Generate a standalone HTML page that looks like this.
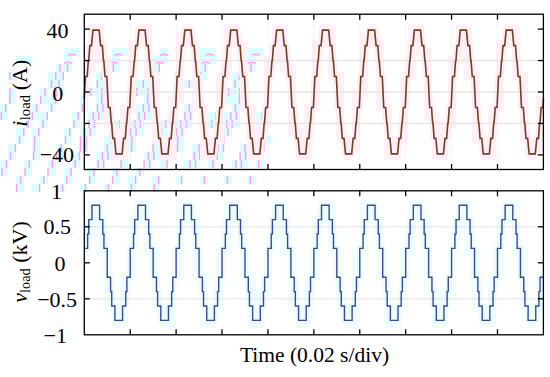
<!DOCTYPE html>
<html><head><meta charset="utf-8"><style>
html,body{margin:0;padding:0;background:#fff;}
body{width:550px;height:377px;overflow:hidden;position:relative;}
svg{position:absolute;left:0;top:0;}
text{font-family:"Liberation Serif", serif;font-size:22px;fill:#000;}
</style></head><body>
<svg width="550" height="377" viewBox="0 0 550 377">
<defs><clipPath id="cu"><rect x="84.3" y="14.2" width="459.10" height="155.30"/></clipPath>
<clipPath id="cl"><rect x="84.3" y="190.8" width="459.10" height="144.00"/></clipPath></defs>
<g fill="#dafdfd" stroke="none"><rect x="0" y="104" width="8" height="8"/><rect x="0" y="112" width="8" height="8"/><rect x="0" y="160" width="8" height="8"/><rect x="0" y="168" width="8" height="8"/><rect x="8" y="72" width="8" height="8"/><rect x="8" y="88" width="8" height="8"/><rect x="8" y="96" width="8" height="8"/><rect x="8" y="144" width="8" height="8"/><rect x="8" y="152" width="8" height="8"/><rect x="16" y="56" width="8" height="8"/><rect x="16" y="128" width="8" height="8"/><rect x="16" y="136" width="8" height="8"/><rect x="16" y="176" width="8" height="8"/><rect x="16" y="184" width="8" height="8"/><rect x="24" y="56" width="8" height="8"/><rect x="24" y="120" width="8" height="8"/><rect x="24" y="160" width="8" height="8"/><rect x="24" y="168" width="8" height="8"/><rect x="32" y="104" width="8" height="8"/><rect x="32" y="112" width="8" height="8"/><rect x="32" y="128" width="8" height="8"/><rect x="32" y="136" width="8" height="8"/><rect x="32" y="144" width="8" height="8"/><rect x="32" y="152" width="8" height="8"/><rect x="32" y="184" width="8" height="8"/><rect x="40" y="88" width="8" height="8"/><rect x="40" y="96" width="8" height="8"/><rect x="40" y="112" width="8" height="8"/><rect x="40" y="120" width="8" height="8"/><rect x="40" y="176" width="8" height="8"/><rect x="48" y="72" width="8" height="8"/><rect x="48" y="80" width="8" height="8"/><rect x="48" y="96" width="8" height="8"/><rect x="48" y="104" width="8" height="8"/><rect x="48" y="160" width="8" height="8"/><rect x="48" y="168" width="8" height="8"/><rect x="56" y="64" width="8" height="8"/><rect x="56" y="72" width="8" height="8"/><rect x="56" y="80" width="8" height="8"/><rect x="56" y="88" width="8" height="8"/><rect x="56" y="144" width="8" height="8"/><rect x="56" y="152" width="8" height="8"/><rect x="56" y="184" width="8" height="8"/><rect x="64" y="48" width="8" height="8"/><rect x="64" y="56" width="8" height="8"/><rect x="64" y="64" width="8" height="8"/><rect x="64" y="128" width="8" height="8"/><rect x="64" y="136" width="8" height="8"/><rect x="64" y="168" width="8" height="8"/><rect x="64" y="176" width="8" height="8"/><rect x="72" y="48" width="8" height="8"/><rect x="72" y="112" width="8" height="8"/><rect x="72" y="120" width="8" height="8"/><rect x="72" y="152" width="8" height="8"/><rect x="72" y="160" width="8" height="8"/><rect x="80" y="96" width="8" height="8"/><rect x="80" y="104" width="8" height="8"/><rect x="80" y="128" width="8" height="8"/><rect x="80" y="136" width="8" height="8"/><rect x="80" y="144" width="8" height="8"/><rect x="80" y="184" width="8" height="8"/><rect x="88" y="88" width="8" height="8"/><rect x="88" y="112" width="8" height="8"/><rect x="88" y="120" width="8" height="8"/><rect x="88" y="128" width="8" height="8"/><rect x="88" y="168" width="8" height="8"/><rect x="88" y="176" width="8" height="8"/><rect x="96" y="72" width="8" height="8"/><rect x="96" y="80" width="8" height="8"/><rect x="96" y="88" width="8" height="8"/><rect x="96" y="96" width="8" height="8"/><rect x="96" y="104" width="8" height="8"/><rect x="96" y="112" width="8" height="8"/><rect x="96" y="152" width="8" height="8"/><rect x="96" y="160" width="8" height="8"/><rect x="104" y="56" width="8" height="8"/><rect x="104" y="64" width="8" height="8"/><rect x="104" y="72" width="8" height="8"/><rect x="104" y="80" width="8" height="8"/><rect x="104" y="96" width="8" height="8"/><rect x="104" y="136" width="8" height="8"/><rect x="104" y="144" width="8" height="8"/><rect x="104" y="152" width="8" height="8"/><rect x="104" y="184" width="8" height="8"/><rect x="112" y="48" width="8" height="8"/><rect x="112" y="56" width="8" height="8"/><rect x="112" y="64" width="8" height="8"/><rect x="112" y="120" width="8" height="8"/><rect x="112" y="128" width="8" height="8"/><rect x="112" y="168" width="8" height="8"/><rect x="112" y="176" width="8" height="8"/><rect x="120" y="48" width="8" height="8"/><rect x="120" y="112" width="8" height="8"/><rect x="120" y="136" width="8" height="8"/><rect x="120" y="144" width="8" height="8"/><rect x="120" y="152" width="8" height="8"/><rect x="120" y="160" width="8" height="8"/><rect x="128" y="96" width="8" height="8"/><rect x="128" y="104" width="8" height="8"/><rect x="128" y="120" width="8" height="8"/><rect x="128" y="128" width="8" height="8"/><rect x="128" y="136" width="8" height="8"/><rect x="128" y="144" width="8" height="8"/><rect x="128" y="176" width="8" height="8"/><rect x="128" y="184" width="8" height="8"/><rect x="136" y="80" width="8" height="8"/><rect x="136" y="88" width="8" height="8"/><rect x="136" y="104" width="8" height="8"/><rect x="136" y="112" width="8" height="8"/><rect x="136" y="120" width="8" height="8"/><rect x="136" y="128" width="8" height="8"/><rect x="136" y="168" width="8" height="8"/><rect x="144" y="64" width="8" height="8"/><rect x="144" y="72" width="8" height="8"/><rect x="144" y="80" width="8" height="8"/><rect x="144" y="88" width="8" height="8"/><rect x="144" y="96" width="8" height="8"/><rect x="144" y="104" width="8" height="8"/><rect x="144" y="112" width="8" height="8"/><rect x="144" y="152" width="8" height="8"/><rect x="144" y="160" width="8" height="8"/><rect x="152" y="56" width="8" height="8"/><rect x="152" y="64" width="8" height="8"/><rect x="152" y="72" width="8" height="8"/><rect x="152" y="96" width="8" height="8"/><rect x="152" y="136" width="8" height="8"/><rect x="152" y="144" width="8" height="8"/><rect x="152" y="152" width="8" height="8"/><rect x="152" y="176" width="8" height="8"/><rect x="152" y="184" width="8" height="8"/><rect x="160" y="48" width="8" height="8"/><rect x="160" y="56" width="8" height="8"/><rect x="160" y="120" width="8" height="8"/><rect x="160" y="128" width="8" height="8"/><rect x="160" y="160" width="8" height="8"/><rect x="168" y="104" width="8" height="8"/><rect x="168" y="112" width="8" height="8"/><rect x="168" y="136" width="8" height="8"/><rect x="168" y="144" width="8" height="8"/><rect x="168" y="152" width="8" height="8"/><rect x="176" y="88" width="8" height="8"/><rect x="176" y="96" width="8" height="8"/><rect x="176" y="120" width="8" height="8"/><rect x="176" y="128" width="8" height="8"/><rect x="176" y="136" width="8" height="8"/><rect x="176" y="144" width="8" height="8"/><rect x="176" y="176" width="8" height="8"/><rect x="184" y="80" width="8" height="8"/><rect x="184" y="104" width="8" height="8"/><rect x="184" y="112" width="8" height="8"/><rect x="184" y="120" width="8" height="8"/><rect x="184" y="160" width="8" height="8"/><rect x="192" y="64" width="8" height="8"/><rect x="192" y="72" width="8" height="8"/><rect x="192" y="80" width="8" height="8"/><rect x="192" y="88" width="8" height="8"/><rect x="192" y="96" width="8" height="8"/><rect x="192" y="104" width="8" height="8"/><rect x="192" y="144" width="8" height="8"/><rect x="192" y="152" width="8" height="8"/><rect x="192" y="160" width="8" height="8"/><rect x="200" y="48" width="8" height="8"/><rect x="200" y="56" width="8" height="8"/><rect x="200" y="64" width="8" height="8"/><rect x="200" y="72" width="8" height="8"/><rect x="200" y="128" width="8" height="8"/><rect x="200" y="136" width="8" height="8"/><rect x="200" y="176" width="8" height="8"/><rect x="208" y="48" width="8" height="8"/><rect x="208" y="56" width="8" height="8"/><rect x="208" y="112" width="8" height="8"/><rect x="208" y="120" width="8" height="8"/><rect x="208" y="160" width="8" height="8"/><rect x="216" y="104" width="8" height="8"/><rect x="216" y="128" width="8" height="8"/><rect x="216" y="136" width="8" height="8"/><rect x="216" y="144" width="8" height="8"/><rect x="216" y="152" width="8" height="8"/><rect x="224" y="88" width="8" height="8"/><rect x="224" y="96" width="8" height="8"/><rect x="224" y="112" width="8" height="8"/><rect x="224" y="120" width="8" height="8"/><rect x="224" y="128" width="8" height="8"/><rect x="224" y="176" width="8" height="8"/><rect x="232" y="72" width="8" height="8"/><rect x="232" y="80" width="8" height="8"/><rect x="232" y="88" width="8" height="8"/><rect x="232" y="96" width="8" height="8"/><rect x="232" y="104" width="8" height="8"/><rect x="232" y="112" width="8" height="8"/><rect x="232" y="120" width="8" height="8"/><rect x="232" y="160" width="8" height="8"/><rect x="240" y="56" width="8" height="8"/><rect x="240" y="64" width="8" height="8"/><rect x="240" y="72" width="8" height="8"/><rect x="240" y="80" width="8" height="8"/><rect x="240" y="96" width="8" height="8"/><rect x="240" y="104" width="8" height="8"/><rect x="240" y="144" width="8" height="8"/><rect x="240" y="152" width="8" height="8"/><rect x="240" y="160" width="8" height="8"/><rect x="248" y="48" width="8" height="8"/><rect x="248" y="56" width="8" height="8"/><rect x="248" y="64" width="8" height="8"/><rect x="248" y="128" width="8" height="8"/><rect x="248" y="136" width="8" height="8"/><rect x="248" y="176" width="8" height="8"/><rect x="256" y="48" width="8" height="8"/><rect x="256" y="112" width="8" height="8"/><rect x="256" y="120" width="8" height="8"/><rect x="256" y="144" width="8" height="8"/><rect x="256" y="152" width="8" height="8"/><rect x="256" y="160" width="8" height="8"/><rect x="264" y="136" width="8" height="8"/></g>
<g stroke="#ff9cf8" stroke-width="1.4" fill="none"><line x1="9.8" y1="72.0" x2="9.8" y2="80.0"/><line x1="10.1" y1="88.0" x2="10.1" y2="96.0"/><line x1="9.9" y1="96.0" x2="9.9" y2="104.0"/><line x1="5.7" y1="104.0" x2="5.7" y2="112.0"/><line x1="1.4" y1="112.0" x2="1.4" y2="120.0"/><line x1="68.4" y1="56.0" x2="69.2" y2="54.5"/><line x1="69.2" y1="54.5" x2="75.1" y2="54.5"/><line x1="75.1" y1="54.5" x2="75.9" y2="56.0"/><line x1="64.2" y1="64.0" x2="65.0" y2="62.5"/><line x1="65.0" y1="62.5" x2="70.9" y2="62.5"/><line x1="70.9" y1="62.5" x2="71.7" y2="64.0"/><line x1="60.0" y1="64.0" x2="60.0" y2="72.0"/><line x1="67.5" y1="64.0" x2="67.5" y2="72.0"/><line x1="55.7" y1="72.0" x2="55.7" y2="80.0"/><line x1="63.2" y1="72.0" x2="63.2" y2="80.0"/><line x1="51.5" y1="80.0" x2="51.5" y2="88.0"/><line x1="59.0" y1="80.0" x2="59.0" y2="88.0"/><line x1="45.0" y1="88.0" x2="45.0" y2="96.0"/><line x1="56.0" y1="88.0" x2="56.0" y2="96.0"/><line x1="40.8" y1="96.0" x2="40.8" y2="104.0"/><line x1="55.8" y1="96.0" x2="55.8" y2="104.0"/><line x1="36.6" y1="104.0" x2="36.6" y2="112.0"/><line x1="51.6" y1="104.0" x2="51.6" y2="112.0"/><line x1="32.3" y1="112.0" x2="32.3" y2="120.0"/><line x1="47.3" y1="112.0" x2="47.3" y2="120.0"/><line x1="28.1" y1="120.0" x2="28.1" y2="128.0"/><line x1="43.1" y1="120.0" x2="43.1" y2="128.0"/><line x1="23.8" y1="128.0" x2="23.8" y2="136.0"/><line x1="38.8" y1="128.0" x2="38.8" y2="136.0"/><line x1="19.6" y1="136.0" x2="19.6" y2="144.0"/><line x1="34.6" y1="136.0" x2="34.6" y2="144.0"/><line x1="15.4" y1="144.0" x2="15.4" y2="152.0"/><line x1="34.4" y1="144.0" x2="34.4" y2="152.0"/><line x1="10.6" y1="152.0" x2="10.6" y2="160.0"/><line x1="33.6" y1="152.0" x2="33.6" y2="160.0"/><line x1="6.4" y1="160.0" x2="6.4" y2="168.0"/><line x1="29.3" y1="160.0" x2="29.3" y2="168.0"/><line x1="2.1" y1="168.0" x2="2.1" y2="176.0"/><line x1="25.1" y1="168.0" x2="25.1" y2="176.0"/><line x1="20.8" y1="176.0" x2="20.8" y2="184.0"/><line x1="16.6" y1="184.0" x2="16.6" y2="192.0"/><line x1="114.3" y1="56.0" x2="115.1" y2="54.5"/><line x1="115.1" y1="54.5" x2="121.0" y2="54.5"/><line x1="121.0" y1="54.5" x2="121.8" y2="56.0"/><line x1="110.1" y1="64.0" x2="110.9" y2="62.5"/><line x1="110.9" y1="62.5" x2="116.8" y2="62.5"/><line x1="116.8" y1="62.5" x2="117.6" y2="64.0"/><line x1="105.9" y1="64.0" x2="105.9" y2="72.0"/><line x1="113.4" y1="64.0" x2="113.4" y2="72.0"/><line x1="101.6" y1="72.0" x2="101.6" y2="80.0"/><line x1="109.1" y1="72.0" x2="109.1" y2="80.0"/><line x1="97.4" y1="80.0" x2="97.4" y2="88.0"/><line x1="104.9" y1="80.0" x2="104.9" y2="88.0"/><line x1="90.9" y1="88.0" x2="90.9" y2="96.0"/><line x1="101.9" y1="88.0" x2="101.9" y2="96.0"/><line x1="86.7" y1="96.0" x2="86.7" y2="104.0"/><line x1="101.7" y1="96.0" x2="101.7" y2="104.0"/><line x1="107.2" y1="96.0" x2="107.2" y2="104.0"/><line x1="82.5" y1="104.0" x2="82.5" y2="112.0"/><line x1="97.5" y1="104.0" x2="97.5" y2="112.0"/><line x1="103.0" y1="104.0" x2="103.0" y2="112.0"/><line x1="78.2" y1="112.0" x2="78.2" y2="120.0"/><line x1="93.2" y1="112.0" x2="93.2" y2="120.0"/><line x1="98.7" y1="112.0" x2="98.7" y2="120.0"/><line x1="74.0" y1="120.0" x2="74.0" y2="128.0"/><line x1="89.0" y1="120.0" x2="89.0" y2="128.0"/><line x1="94.5" y1="120.0" x2="94.5" y2="128.0"/><line x1="69.7" y1="128.0" x2="69.7" y2="136.0"/><line x1="84.7" y1="128.0" x2="84.7" y2="136.0"/><line x1="90.2" y1="128.0" x2="90.2" y2="136.0"/><line x1="65.5" y1="136.0" x2="65.5" y2="144.0"/><line x1="80.5" y1="136.0" x2="80.5" y2="144.0"/><line x1="86.0" y1="136.0" x2="86.0" y2="144.0"/><line x1="61.3" y1="144.0" x2="61.3" y2="152.0"/><line x1="80.3" y1="144.0" x2="80.3" y2="152.0"/><line x1="85.8" y1="144.0" x2="85.8" y2="152.0"/><line x1="56.5" y1="152.0" x2="56.5" y2="160.0"/><line x1="79.5" y1="152.0" x2="79.5" y2="160.0"/><line x1="52.3" y1="160.0" x2="52.3" y2="168.0"/><line x1="75.2" y1="160.0" x2="75.2" y2="168.0"/><line x1="48.0" y1="168.0" x2="48.0" y2="176.0"/><line x1="71.0" y1="168.0" x2="71.0" y2="176.0"/><line x1="43.8" y1="176.0" x2="43.8" y2="184.0"/><line x1="66.7" y1="176.0" x2="66.7" y2="184.0"/><line x1="39.6" y1="184.0" x2="39.6" y2="192.0"/><line x1="62.5" y1="184.0" x2="62.5" y2="192.0"/><line x1="160.2" y1="56.0" x2="161.0" y2="54.5"/><line x1="161.0" y1="54.5" x2="166.9" y2="54.5"/><line x1="166.9" y1="54.5" x2="167.7" y2="56.0"/><line x1="156.0" y1="64.0" x2="156.8" y2="62.5"/><line x1="156.8" y1="62.5" x2="162.7" y2="62.5"/><line x1="162.7" y1="62.5" x2="163.5" y2="64.0"/><line x1="151.8" y1="64.0" x2="151.8" y2="72.0"/><line x1="159.3" y1="64.0" x2="159.3" y2="72.0"/><line x1="147.5" y1="72.0" x2="147.5" y2="80.0"/><line x1="155.0" y1="72.0" x2="155.0" y2="80.0"/><line x1="143.3" y1="80.0" x2="143.3" y2="88.0"/><line x1="150.8" y1="80.0" x2="150.8" y2="88.0"/><line x1="136.8" y1="88.0" x2="136.8" y2="96.0"/><line x1="147.8" y1="88.0" x2="147.8" y2="96.0"/><line x1="132.6" y1="96.0" x2="132.6" y2="104.0"/><line x1="147.6" y1="96.0" x2="147.6" y2="104.0"/><line x1="153.1" y1="96.0" x2="153.1" y2="104.0"/><line x1="128.4" y1="104.0" x2="128.4" y2="112.0"/><line x1="143.4" y1="104.0" x2="143.4" y2="112.0"/><line x1="148.9" y1="104.0" x2="148.9" y2="112.0"/><line x1="124.1" y1="112.0" x2="124.1" y2="120.0"/><line x1="139.1" y1="112.0" x2="139.1" y2="120.0"/><line x1="144.6" y1="112.0" x2="144.6" y2="120.0"/><line x1="119.9" y1="120.0" x2="119.9" y2="128.0"/><line x1="134.9" y1="120.0" x2="134.9" y2="128.0"/><line x1="140.4" y1="120.0" x2="140.4" y2="128.0"/><line x1="115.6" y1="128.0" x2="115.6" y2="136.0"/><line x1="130.6" y1="128.0" x2="130.6" y2="136.0"/><line x1="136.1" y1="128.0" x2="136.1" y2="136.0"/><line x1="111.4" y1="136.0" x2="111.4" y2="144.0"/><line x1="126.4" y1="136.0" x2="126.4" y2="144.0"/><line x1="131.9" y1="136.0" x2="131.9" y2="144.0"/><line x1="107.2" y1="144.0" x2="107.2" y2="152.0"/><line x1="126.2" y1="144.0" x2="126.2" y2="152.0"/><line x1="131.7" y1="144.0" x2="131.7" y2="152.0"/><line x1="102.4" y1="152.0" x2="102.4" y2="160.0"/><line x1="125.4" y1="152.0" x2="125.4" y2="160.0"/><line x1="107.9" y1="152.0" x2="107.9" y2="160.0"/><line x1="98.2" y1="160.0" x2="98.2" y2="168.0"/><line x1="121.1" y1="160.0" x2="121.1" y2="168.0"/><line x1="103.7" y1="160.0" x2="103.7" y2="168.0"/><line x1="93.9" y1="168.0" x2="93.9" y2="176.0"/><line x1="116.9" y1="168.0" x2="116.9" y2="176.0"/><line x1="89.7" y1="176.0" x2="89.7" y2="184.0"/><line x1="112.6" y1="176.0" x2="112.6" y2="184.0"/><line x1="85.5" y1="184.0" x2="85.5" y2="192.0"/><line x1="108.4" y1="184.0" x2="108.4" y2="192.0"/><line x1="206.1" y1="56.0" x2="206.9" y2="54.5"/><line x1="206.9" y1="54.5" x2="212.8" y2="54.5"/><line x1="212.8" y1="54.5" x2="213.6" y2="56.0"/><line x1="201.9" y1="64.0" x2="202.7" y2="62.5"/><line x1="202.7" y1="62.5" x2="208.6" y2="62.5"/><line x1="208.6" y1="62.5" x2="209.4" y2="64.0"/><line x1="197.7" y1="64.0" x2="197.7" y2="72.0"/><line x1="205.2" y1="64.0" x2="205.2" y2="72.0"/><line x1="193.4" y1="72.0" x2="193.4" y2="80.0"/><line x1="200.9" y1="72.0" x2="200.9" y2="80.0"/><line x1="189.2" y1="80.0" x2="189.2" y2="88.0"/><line x1="196.7" y1="80.0" x2="196.7" y2="88.0"/><line x1="182.7" y1="88.0" x2="182.7" y2="96.0"/><line x1="193.7" y1="88.0" x2="193.7" y2="96.0"/><line x1="178.5" y1="96.0" x2="178.5" y2="104.0"/><line x1="193.5" y1="96.0" x2="193.5" y2="104.0"/><line x1="199.0" y1="96.0" x2="199.0" y2="104.0"/><line x1="174.3" y1="104.0" x2="174.3" y2="112.0"/><line x1="189.3" y1="104.0" x2="189.3" y2="112.0"/><line x1="194.8" y1="104.0" x2="194.8" y2="112.0"/><line x1="170.0" y1="112.0" x2="170.0" y2="120.0"/><line x1="185.0" y1="112.0" x2="185.0" y2="120.0"/><line x1="190.5" y1="112.0" x2="190.5" y2="120.0"/><line x1="165.8" y1="120.0" x2="165.8" y2="128.0"/><line x1="180.8" y1="120.0" x2="180.8" y2="128.0"/><line x1="186.3" y1="120.0" x2="186.3" y2="128.0"/><line x1="161.5" y1="128.0" x2="161.5" y2="136.0"/><line x1="176.5" y1="128.0" x2="176.5" y2="136.0"/><line x1="182.0" y1="128.0" x2="182.0" y2="136.0"/><line x1="157.3" y1="136.0" x2="157.3" y2="144.0"/><line x1="172.3" y1="136.0" x2="172.3" y2="144.0"/><line x1="177.8" y1="136.0" x2="177.8" y2="144.0"/><line x1="153.1" y1="144.0" x2="153.1" y2="152.0"/><line x1="172.1" y1="144.0" x2="172.1" y2="152.0"/><line x1="177.6" y1="144.0" x2="177.6" y2="152.0"/><line x1="148.3" y1="152.0" x2="148.3" y2="160.0"/><line x1="171.3" y1="152.0" x2="171.3" y2="160.0"/><line x1="153.8" y1="152.0" x2="153.8" y2="160.0"/><line x1="144.1" y1="160.0" x2="144.1" y2="168.0"/><line x1="167.0" y1="160.0" x2="167.0" y2="168.0"/><line x1="149.6" y1="160.0" x2="149.6" y2="168.0"/><line x1="139.8" y1="168.0" x2="139.8" y2="176.0"/><line x1="135.6" y1="176.0" x2="135.6" y2="184.0"/><line x1="158.5" y1="176.0" x2="158.5" y2="184.0"/><line x1="131.4" y1="184.0" x2="131.4" y2="192.0"/><line x1="154.3" y1="184.0" x2="154.3" y2="192.0"/><line x1="252.0" y1="56.0" x2="252.8" y2="54.5"/><line x1="252.8" y1="54.5" x2="258.7" y2="54.5"/><line x1="258.7" y1="54.5" x2="259.5" y2="56.0"/><line x1="247.8" y1="64.0" x2="248.6" y2="62.5"/><line x1="248.6" y1="62.5" x2="254.5" y2="62.5"/><line x1="254.5" y1="62.5" x2="255.3" y2="64.0"/><line x1="243.6" y1="64.0" x2="243.6" y2="72.0"/><line x1="251.1" y1="64.0" x2="251.1" y2="72.0"/><line x1="239.3" y1="72.0" x2="239.3" y2="80.0"/><line x1="246.8" y1="72.0" x2="246.8" y2="80.0"/><line x1="235.1" y1="80.0" x2="235.1" y2="88.0"/><line x1="242.6" y1="80.0" x2="242.6" y2="88.0"/><line x1="228.6" y1="88.0" x2="228.6" y2="96.0"/><line x1="239.6" y1="88.0" x2="239.6" y2="96.0"/><line x1="224.4" y1="96.0" x2="224.4" y2="104.0"/><line x1="239.4" y1="96.0" x2="239.4" y2="104.0"/><line x1="244.9" y1="96.0" x2="244.9" y2="104.0"/><line x1="220.2" y1="104.0" x2="220.2" y2="112.0"/><line x1="235.2" y1="104.0" x2="235.2" y2="112.0"/><line x1="240.7" y1="104.0" x2="240.7" y2="112.0"/><line x1="215.9" y1="112.0" x2="215.9" y2="120.0"/><line x1="230.9" y1="112.0" x2="230.9" y2="120.0"/><line x1="236.4" y1="112.0" x2="236.4" y2="120.0"/><line x1="211.7" y1="120.0" x2="211.7" y2="128.0"/><line x1="226.7" y1="120.0" x2="226.7" y2="128.0"/><line x1="232.2" y1="120.0" x2="232.2" y2="128.0"/><line x1="207.4" y1="128.0" x2="207.4" y2="136.0"/><line x1="222.4" y1="128.0" x2="222.4" y2="136.0"/><line x1="227.9" y1="128.0" x2="227.9" y2="136.0"/><line x1="203.2" y1="136.0" x2="203.2" y2="144.0"/><line x1="218.2" y1="136.0" x2="218.2" y2="144.0"/><line x1="223.7" y1="136.0" x2="223.7" y2="144.0"/><line x1="199.0" y1="144.0" x2="199.0" y2="152.0"/><line x1="218.0" y1="144.0" x2="218.0" y2="152.0"/><line x1="223.5" y1="144.0" x2="223.5" y2="152.0"/><line x1="194.2" y1="152.0" x2="194.2" y2="160.0"/><line x1="217.2" y1="152.0" x2="217.2" y2="160.0"/><line x1="199.7" y1="152.0" x2="199.7" y2="160.0"/><line x1="190.0" y1="160.0" x2="190.0" y2="168.0"/><line x1="212.9" y1="160.0" x2="212.9" y2="168.0"/><line x1="195.5" y1="160.0" x2="195.5" y2="168.0"/><line x1="181.5" y1="176.0" x2="181.5" y2="184.0"/><line x1="204.4" y1="176.0" x2="204.4" y2="184.0"/><line x1="261.8" y1="112.0" x2="261.8" y2="120.0"/><line x1="257.6" y1="120.0" x2="257.6" y2="128.0"/><line x1="253.3" y1="128.0" x2="253.3" y2="136.0"/><line x1="249.1" y1="136.0" x2="249.1" y2="144.0"/><line x1="264.1" y1="136.0" x2="264.1" y2="144.0"/><line x1="244.9" y1="144.0" x2="244.9" y2="152.0"/><line x1="263.9" y1="144.0" x2="263.9" y2="152.0"/><line x1="240.1" y1="152.0" x2="240.1" y2="160.0"/><line x1="263.1" y1="152.0" x2="263.1" y2="160.0"/><line x1="245.6" y1="152.0" x2="245.6" y2="160.0"/><line x1="235.9" y1="160.0" x2="235.9" y2="168.0"/><line x1="258.8" y1="160.0" x2="258.8" y2="168.0"/><line x1="241.4" y1="160.0" x2="241.4" y2="168.0"/><line x1="227.4" y1="176.0" x2="227.4" y2="184.0"/><line x1="250.3" y1="176.0" x2="250.3" y2="184.0"/></g>
<g fill="#fff0f7" stroke="none"><rect x="84.3" y="64.0" width="3.7" height="8.0"/><rect x="84.3" y="72.0" width="3.7" height="8.0"/><rect x="84.3" y="80.0" width="3.7" height="8.0"/><rect x="84.3" y="88.0" width="3.7" height="8.0"/><rect x="84.3" y="96.0" width="3.7" height="8.0"/><rect x="88.0" y="24.0" width="8.0" height="8.0"/><rect x="88.0" y="32.0" width="8.0" height="8.0"/><rect x="88.0" y="40.0" width="8.0" height="8.0"/><rect x="88.0" y="48.0" width="8.0" height="8.0"/><rect x="88.0" y="56.0" width="8.0" height="8.0"/><rect x="88.0" y="64.0" width="8.0" height="8.0"/><rect x="96.0" y="24.0" width="8.0" height="8.0"/><rect x="96.0" y="32.0" width="8.0" height="8.0"/><rect x="96.0" y="40.0" width="8.0" height="8.0"/><rect x="96.0" y="48.0" width="8.0" height="8.0"/><rect x="96.0" y="56.0" width="8.0" height="8.0"/><rect x="104.0" y="56.0" width="8.0" height="8.0"/><rect x="104.0" y="64.0" width="8.0" height="8.0"/><rect x="104.0" y="72.0" width="8.0" height="8.0"/><rect x="104.0" y="80.0" width="8.0" height="8.0"/><rect x="104.0" y="88.0" width="8.0" height="8.0"/><rect x="104.0" y="96.0" width="8.0" height="8.0"/><rect x="104.0" y="104.0" width="8.0" height="8.0"/><rect x="104.0" y="112.0" width="8.0" height="8.0"/><rect x="104.0" y="120.0" width="8.0" height="8.0"/><rect x="112.0" y="128.0" width="8.0" height="8.0"/><rect x="112.0" y="136.0" width="8.0" height="8.0"/><rect x="112.0" y="144.0" width="8.0" height="8.0"/><rect x="112.0" y="152.0" width="8.0" height="8.0"/><rect x="120.0" y="104.0" width="8.0" height="8.0"/><rect x="120.0" y="112.0" width="8.0" height="8.0"/><rect x="120.0" y="120.0" width="8.0" height="8.0"/><rect x="120.0" y="128.0" width="8.0" height="8.0"/><rect x="120.0" y="136.0" width="8.0" height="8.0"/><rect x="120.0" y="144.0" width="8.0" height="8.0"/><rect x="120.0" y="152.0" width="8.0" height="8.0"/><rect x="128.0" y="40.0" width="8.0" height="8.0"/><rect x="128.0" y="48.0" width="8.0" height="8.0"/><rect x="128.0" y="56.0" width="8.0" height="8.0"/><rect x="128.0" y="64.0" width="8.0" height="8.0"/><rect x="128.0" y="72.0" width="8.0" height="8.0"/><rect x="128.0" y="80.0" width="8.0" height="8.0"/><rect x="128.0" y="88.0" width="8.0" height="8.0"/><rect x="128.0" y="96.0" width="8.0" height="8.0"/><rect x="128.0" y="104.0" width="8.0" height="8.0"/><rect x="136.0" y="24.0" width="8.0" height="8.0"/><rect x="136.0" y="32.0" width="8.0" height="8.0"/><rect x="136.0" y="40.0" width="8.0" height="8.0"/><rect x="144.0" y="24.0" width="8.0" height="8.0"/><rect x="144.0" y="32.0" width="8.0" height="8.0"/><rect x="144.0" y="40.0" width="8.0" height="8.0"/><rect x="144.0" y="48.0" width="8.0" height="8.0"/><rect x="144.0" y="56.0" width="8.0" height="8.0"/><rect x="144.0" y="64.0" width="8.0" height="8.0"/><rect x="144.0" y="72.0" width="8.0" height="8.0"/><rect x="152.0" y="72.0" width="8.0" height="8.0"/><rect x="152.0" y="80.0" width="8.0" height="8.0"/><rect x="152.0" y="88.0" width="8.0" height="8.0"/><rect x="152.0" y="96.0" width="8.0" height="8.0"/><rect x="152.0" y="104.0" width="8.0" height="8.0"/><rect x="152.0" y="112.0" width="8.0" height="8.0"/><rect x="152.0" y="120.0" width="8.0" height="8.0"/><rect x="152.0" y="128.0" width="8.0" height="8.0"/><rect x="152.0" y="136.0" width="8.0" height="8.0"/><rect x="160.0" y="136.0" width="8.0" height="8.0"/><rect x="160.0" y="144.0" width="8.0" height="8.0"/><rect x="160.0" y="152.0" width="8.0" height="8.0"/><rect x="168.0" y="96.0" width="8.0" height="8.0"/><rect x="168.0" y="104.0" width="8.0" height="8.0"/><rect x="168.0" y="112.0" width="8.0" height="8.0"/><rect x="168.0" y="120.0" width="8.0" height="8.0"/><rect x="168.0" y="128.0" width="8.0" height="8.0"/><rect x="168.0" y="136.0" width="8.0" height="8.0"/><rect x="168.0" y="144.0" width="8.0" height="8.0"/><rect x="168.0" y="152.0" width="8.0" height="8.0"/><rect x="176.0" y="32.0" width="8.0" height="8.0"/><rect x="176.0" y="40.0" width="8.0" height="8.0"/><rect x="176.0" y="48.0" width="8.0" height="8.0"/><rect x="176.0" y="56.0" width="8.0" height="8.0"/><rect x="176.0" y="64.0" width="8.0" height="8.0"/><rect x="176.0" y="72.0" width="8.0" height="8.0"/><rect x="176.0" y="80.0" width="8.0" height="8.0"/><rect x="176.0" y="88.0" width="8.0" height="8.0"/><rect x="176.0" y="96.0" width="8.0" height="8.0"/><rect x="184.0" y="24.0" width="8.0" height="8.0"/><rect x="184.0" y="32.0" width="8.0" height="8.0"/><rect x="184.0" y="40.0" width="8.0" height="8.0"/><rect x="192.0" y="40.0" width="8.0" height="8.0"/><rect x="192.0" y="48.0" width="8.0" height="8.0"/><rect x="192.0" y="56.0" width="8.0" height="8.0"/><rect x="192.0" y="64.0" width="8.0" height="8.0"/><rect x="192.0" y="72.0" width="8.0" height="8.0"/><rect x="192.0" y="80.0" width="8.0" height="8.0"/><rect x="192.0" y="88.0" width="8.0" height="8.0"/><rect x="192.0" y="96.0" width="8.0" height="8.0"/><rect x="192.0" y="104.0" width="8.0" height="8.0"/><rect x="200.0" y="104.0" width="8.0" height="8.0"/><rect x="200.0" y="112.0" width="8.0" height="8.0"/><rect x="200.0" y="120.0" width="8.0" height="8.0"/><rect x="200.0" y="128.0" width="8.0" height="8.0"/><rect x="200.0" y="136.0" width="8.0" height="8.0"/><rect x="200.0" y="144.0" width="8.0" height="8.0"/><rect x="200.0" y="152.0" width="8.0" height="8.0"/><rect x="208.0" y="136.0" width="8.0" height="8.0"/><rect x="208.0" y="144.0" width="8.0" height="8.0"/><rect x="208.0" y="152.0" width="8.0" height="8.0"/><rect x="216.0" y="72.0" width="8.0" height="8.0"/><rect x="216.0" y="80.0" width="8.0" height="8.0"/><rect x="216.0" y="88.0" width="8.0" height="8.0"/><rect x="216.0" y="96.0" width="8.0" height="8.0"/><rect x="216.0" y="104.0" width="8.0" height="8.0"/><rect x="216.0" y="112.0" width="8.0" height="8.0"/><rect x="216.0" y="120.0" width="8.0" height="8.0"/><rect x="216.0" y="128.0" width="8.0" height="8.0"/><rect x="216.0" y="136.0" width="8.0" height="8.0"/><rect x="224.0" y="24.0" width="8.0" height="8.0"/><rect x="224.0" y="32.0" width="8.0" height="8.0"/><rect x="224.0" y="40.0" width="8.0" height="8.0"/><rect x="224.0" y="48.0" width="8.0" height="8.0"/><rect x="224.0" y="56.0" width="8.0" height="8.0"/><rect x="224.0" y="64.0" width="8.0" height="8.0"/><rect x="224.0" y="72.0" width="8.0" height="8.0"/><rect x="232.0" y="24.0" width="8.0" height="8.0"/><rect x="232.0" y="32.0" width="8.0" height="8.0"/><rect x="232.0" y="40.0" width="8.0" height="8.0"/><rect x="240.0" y="40.0" width="8.0" height="8.0"/><rect x="240.0" y="48.0" width="8.0" height="8.0"/><rect x="240.0" y="56.0" width="8.0" height="8.0"/><rect x="240.0" y="64.0" width="8.0" height="8.0"/><rect x="240.0" y="72.0" width="8.0" height="8.0"/><rect x="240.0" y="80.0" width="8.0" height="8.0"/><rect x="240.0" y="88.0" width="8.0" height="8.0"/><rect x="240.0" y="96.0" width="8.0" height="8.0"/><rect x="240.0" y="104.0" width="8.0" height="8.0"/><rect x="248.0" y="104.0" width="8.0" height="8.0"/><rect x="248.0" y="112.0" width="8.0" height="8.0"/><rect x="248.0" y="120.0" width="8.0" height="8.0"/><rect x="248.0" y="128.0" width="8.0" height="8.0"/><rect x="248.0" y="136.0" width="8.0" height="8.0"/><rect x="248.0" y="144.0" width="8.0" height="8.0"/><rect x="248.0" y="152.0" width="8.0" height="8.0"/><rect x="256.0" y="120.0" width="8.0" height="8.0"/><rect x="256.0" y="128.0" width="8.0" height="8.0"/><rect x="256.0" y="136.0" width="8.0" height="8.0"/><rect x="256.0" y="144.0" width="8.0" height="8.0"/><rect x="256.0" y="152.0" width="8.0" height="8.0"/><rect x="264.0" y="56.0" width="8.0" height="8.0"/><rect x="264.0" y="64.0" width="8.0" height="8.0"/><rect x="264.0" y="72.0" width="8.0" height="8.0"/><rect x="264.0" y="80.0" width="8.0" height="8.0"/><rect x="264.0" y="88.0" width="8.0" height="8.0"/><rect x="264.0" y="96.0" width="8.0" height="8.0"/><rect x="264.0" y="104.0" width="8.0" height="8.0"/><rect x="264.0" y="112.0" width="8.0" height="8.0"/><rect x="264.0" y="120.0" width="8.0" height="8.0"/><rect x="272.0" y="24.0" width="8.0" height="8.0"/><rect x="272.0" y="32.0" width="8.0" height="8.0"/><rect x="272.0" y="40.0" width="8.0" height="8.0"/><rect x="272.0" y="48.0" width="8.0" height="8.0"/><rect x="272.0" y="56.0" width="8.0" height="8.0"/><rect x="280.0" y="24.0" width="8.0" height="8.0"/><rect x="280.0" y="32.0" width="8.0" height="8.0"/><rect x="280.0" y="40.0" width="8.0" height="8.0"/><rect x="280.0" y="48.0" width="8.0" height="8.0"/><rect x="280.0" y="56.0" width="8.0" height="8.0"/><rect x="280.0" y="64.0" width="8.0" height="8.0"/><rect x="288.0" y="64.0" width="8.0" height="8.0"/><rect x="288.0" y="72.0" width="8.0" height="8.0"/><rect x="288.0" y="80.0" width="8.0" height="8.0"/><rect x="288.0" y="88.0" width="8.0" height="8.0"/><rect x="288.0" y="96.0" width="8.0" height="8.0"/><rect x="288.0" y="104.0" width="8.0" height="8.0"/><rect x="288.0" y="112.0" width="8.0" height="8.0"/><rect x="288.0" y="120.0" width="8.0" height="8.0"/><rect x="288.0" y="128.0" width="8.0" height="8.0"/><rect x="296.0" y="128.0" width="8.0" height="8.0"/><rect x="296.0" y="136.0" width="8.0" height="8.0"/><rect x="296.0" y="144.0" width="8.0" height="8.0"/><rect x="296.0" y="152.0" width="8.0" height="8.0"/><rect x="304.0" y="104.0" width="8.0" height="8.0"/><rect x="304.0" y="112.0" width="8.0" height="8.0"/><rect x="304.0" y="120.0" width="8.0" height="8.0"/><rect x="304.0" y="128.0" width="8.0" height="8.0"/><rect x="304.0" y="136.0" width="8.0" height="8.0"/><rect x="304.0" y="144.0" width="8.0" height="8.0"/><rect x="304.0" y="152.0" width="8.0" height="8.0"/><rect x="312.0" y="40.0" width="8.0" height="8.0"/><rect x="312.0" y="48.0" width="8.0" height="8.0"/><rect x="312.0" y="56.0" width="8.0" height="8.0"/><rect x="312.0" y="64.0" width="8.0" height="8.0"/><rect x="312.0" y="72.0" width="8.0" height="8.0"/><rect x="312.0" y="80.0" width="8.0" height="8.0"/><rect x="312.0" y="88.0" width="8.0" height="8.0"/><rect x="312.0" y="96.0" width="8.0" height="8.0"/><rect x="312.0" y="104.0" width="8.0" height="8.0"/><rect x="320.0" y="24.0" width="8.0" height="8.0"/><rect x="320.0" y="32.0" width="8.0" height="8.0"/><rect x="320.0" y="40.0" width="8.0" height="8.0"/><rect x="328.0" y="24.0" width="8.0" height="8.0"/><rect x="328.0" y="32.0" width="8.0" height="8.0"/><rect x="328.0" y="40.0" width="8.0" height="8.0"/><rect x="328.0" y="48.0" width="8.0" height="8.0"/><rect x="328.0" y="56.0" width="8.0" height="8.0"/><rect x="328.0" y="64.0" width="8.0" height="8.0"/><rect x="328.0" y="72.0" width="8.0" height="8.0"/><rect x="336.0" y="72.0" width="8.0" height="8.0"/><rect x="336.0" y="80.0" width="8.0" height="8.0"/><rect x="336.0" y="88.0" width="8.0" height="8.0"/><rect x="336.0" y="96.0" width="8.0" height="8.0"/><rect x="336.0" y="104.0" width="8.0" height="8.0"/><rect x="336.0" y="112.0" width="8.0" height="8.0"/><rect x="336.0" y="120.0" width="8.0" height="8.0"/><rect x="336.0" y="128.0" width="8.0" height="8.0"/><rect x="336.0" y="136.0" width="8.0" height="8.0"/><rect x="344.0" y="136.0" width="8.0" height="8.0"/><rect x="344.0" y="144.0" width="8.0" height="8.0"/><rect x="344.0" y="152.0" width="8.0" height="8.0"/><rect x="352.0" y="88.0" width="8.0" height="8.0"/><rect x="352.0" y="96.0" width="8.0" height="8.0"/><rect x="352.0" y="104.0" width="8.0" height="8.0"/><rect x="352.0" y="112.0" width="8.0" height="8.0"/><rect x="352.0" y="120.0" width="8.0" height="8.0"/><rect x="352.0" y="128.0" width="8.0" height="8.0"/><rect x="352.0" y="136.0" width="8.0" height="8.0"/><rect x="352.0" y="144.0" width="8.0" height="8.0"/><rect x="360.0" y="32.0" width="8.0" height="8.0"/><rect x="360.0" y="40.0" width="8.0" height="8.0"/><rect x="360.0" y="48.0" width="8.0" height="8.0"/><rect x="360.0" y="56.0" width="8.0" height="8.0"/><rect x="360.0" y="64.0" width="8.0" height="8.0"/><rect x="360.0" y="72.0" width="8.0" height="8.0"/><rect x="360.0" y="80.0" width="8.0" height="8.0"/><rect x="360.0" y="88.0" width="8.0" height="8.0"/><rect x="368.0" y="24.0" width="8.0" height="8.0"/><rect x="368.0" y="32.0" width="8.0" height="8.0"/><rect x="368.0" y="40.0" width="8.0" height="8.0"/><rect x="376.0" y="40.0" width="8.0" height="8.0"/><rect x="376.0" y="48.0" width="8.0" height="8.0"/><rect x="376.0" y="56.0" width="8.0" height="8.0"/><rect x="376.0" y="64.0" width="8.0" height="8.0"/><rect x="376.0" y="72.0" width="8.0" height="8.0"/><rect x="376.0" y="80.0" width="8.0" height="8.0"/><rect x="376.0" y="88.0" width="8.0" height="8.0"/><rect x="376.0" y="96.0" width="8.0" height="8.0"/><rect x="376.0" y="104.0" width="8.0" height="8.0"/><rect x="384.0" y="104.0" width="8.0" height="8.0"/><rect x="384.0" y="112.0" width="8.0" height="8.0"/><rect x="384.0" y="120.0" width="8.0" height="8.0"/><rect x="384.0" y="128.0" width="8.0" height="8.0"/><rect x="384.0" y="136.0" width="8.0" height="8.0"/><rect x="384.0" y="144.0" width="8.0" height="8.0"/><rect x="384.0" y="152.0" width="8.0" height="8.0"/><rect x="392.0" y="136.0" width="8.0" height="8.0"/><rect x="392.0" y="144.0" width="8.0" height="8.0"/><rect x="392.0" y="152.0" width="8.0" height="8.0"/><rect x="400.0" y="72.0" width="8.0" height="8.0"/><rect x="400.0" y="80.0" width="8.0" height="8.0"/><rect x="400.0" y="88.0" width="8.0" height="8.0"/><rect x="400.0" y="96.0" width="8.0" height="8.0"/><rect x="400.0" y="104.0" width="8.0" height="8.0"/><rect x="400.0" y="112.0" width="8.0" height="8.0"/><rect x="400.0" y="120.0" width="8.0" height="8.0"/><rect x="400.0" y="128.0" width="8.0" height="8.0"/><rect x="400.0" y="136.0" width="8.0" height="8.0"/><rect x="408.0" y="24.0" width="8.0" height="8.0"/><rect x="408.0" y="32.0" width="8.0" height="8.0"/><rect x="408.0" y="40.0" width="8.0" height="8.0"/><rect x="408.0" y="48.0" width="8.0" height="8.0"/><rect x="408.0" y="56.0" width="8.0" height="8.0"/><rect x="408.0" y="64.0" width="8.0" height="8.0"/><rect x="408.0" y="72.0" width="8.0" height="8.0"/><rect x="416.0" y="24.0" width="8.0" height="8.0"/><rect x="416.0" y="32.0" width="8.0" height="8.0"/><rect x="416.0" y="40.0" width="8.0" height="8.0"/><rect x="416.0" y="48.0" width="8.0" height="8.0"/><rect x="424.0" y="48.0" width="8.0" height="8.0"/><rect x="424.0" y="56.0" width="8.0" height="8.0"/><rect x="424.0" y="64.0" width="8.0" height="8.0"/><rect x="424.0" y="72.0" width="8.0" height="8.0"/><rect x="424.0" y="80.0" width="8.0" height="8.0"/><rect x="424.0" y="88.0" width="8.0" height="8.0"/><rect x="424.0" y="96.0" width="8.0" height="8.0"/><rect x="424.0" y="104.0" width="8.0" height="8.0"/><rect x="424.0" y="112.0" width="8.0" height="8.0"/><rect x="432.0" y="112.0" width="8.0" height="8.0"/><rect x="432.0" y="120.0" width="8.0" height="8.0"/><rect x="432.0" y="128.0" width="8.0" height="8.0"/><rect x="432.0" y="136.0" width="8.0" height="8.0"/><rect x="432.0" y="144.0" width="8.0" height="8.0"/><rect x="432.0" y="152.0" width="8.0" height="8.0"/><rect x="440.0" y="120.0" width="8.0" height="8.0"/><rect x="440.0" y="128.0" width="8.0" height="8.0"/><rect x="440.0" y="136.0" width="8.0" height="8.0"/><rect x="440.0" y="144.0" width="8.0" height="8.0"/><rect x="440.0" y="152.0" width="8.0" height="8.0"/><rect x="448.0" y="56.0" width="8.0" height="8.0"/><rect x="448.0" y="64.0" width="8.0" height="8.0"/><rect x="448.0" y="72.0" width="8.0" height="8.0"/><rect x="448.0" y="80.0" width="8.0" height="8.0"/><rect x="448.0" y="88.0" width="8.0" height="8.0"/><rect x="448.0" y="96.0" width="8.0" height="8.0"/><rect x="448.0" y="104.0" width="8.0" height="8.0"/><rect x="448.0" y="112.0" width="8.0" height="8.0"/><rect x="448.0" y="120.0" width="8.0" height="8.0"/><rect x="456.0" y="24.0" width="8.0" height="8.0"/><rect x="456.0" y="32.0" width="8.0" height="8.0"/><rect x="456.0" y="40.0" width="8.0" height="8.0"/><rect x="456.0" y="48.0" width="8.0" height="8.0"/><rect x="456.0" y="56.0" width="8.0" height="8.0"/><rect x="464.0" y="24.0" width="8.0" height="8.0"/><rect x="464.0" y="32.0" width="8.0" height="8.0"/><rect x="464.0" y="40.0" width="8.0" height="8.0"/><rect x="464.0" y="48.0" width="8.0" height="8.0"/><rect x="464.0" y="56.0" width="8.0" height="8.0"/><rect x="464.0" y="64.0" width="8.0" height="8.0"/><rect x="464.0" y="72.0" width="8.0" height="8.0"/><rect x="472.0" y="72.0" width="8.0" height="8.0"/><rect x="472.0" y="80.0" width="8.0" height="8.0"/><rect x="472.0" y="88.0" width="8.0" height="8.0"/><rect x="472.0" y="96.0" width="8.0" height="8.0"/><rect x="472.0" y="104.0" width="8.0" height="8.0"/><rect x="472.0" y="112.0" width="8.0" height="8.0"/><rect x="472.0" y="120.0" width="8.0" height="8.0"/><rect x="472.0" y="128.0" width="8.0" height="8.0"/><rect x="472.0" y="136.0" width="8.0" height="8.0"/><rect x="480.0" y="136.0" width="8.0" height="8.0"/><rect x="480.0" y="144.0" width="8.0" height="8.0"/><rect x="480.0" y="152.0" width="8.0" height="8.0"/><rect x="488.0" y="104.0" width="8.0" height="8.0"/><rect x="488.0" y="112.0" width="8.0" height="8.0"/><rect x="488.0" y="120.0" width="8.0" height="8.0"/><rect x="488.0" y="128.0" width="8.0" height="8.0"/><rect x="488.0" y="136.0" width="8.0" height="8.0"/><rect x="488.0" y="144.0" width="8.0" height="8.0"/><rect x="488.0" y="152.0" width="8.0" height="8.0"/><rect x="496.0" y="40.0" width="8.0" height="8.0"/><rect x="496.0" y="48.0" width="8.0" height="8.0"/><rect x="496.0" y="56.0" width="8.0" height="8.0"/><rect x="496.0" y="64.0" width="8.0" height="8.0"/><rect x="496.0" y="72.0" width="8.0" height="8.0"/><rect x="496.0" y="80.0" width="8.0" height="8.0"/><rect x="496.0" y="88.0" width="8.0" height="8.0"/><rect x="496.0" y="96.0" width="8.0" height="8.0"/><rect x="496.0" y="104.0" width="8.0" height="8.0"/><rect x="504.0" y="24.0" width="8.0" height="8.0"/><rect x="504.0" y="32.0" width="8.0" height="8.0"/><rect x="504.0" y="40.0" width="8.0" height="8.0"/><rect x="512.0" y="24.0" width="8.0" height="8.0"/><rect x="512.0" y="32.0" width="8.0" height="8.0"/><rect x="512.0" y="40.0" width="8.0" height="8.0"/><rect x="512.0" y="48.0" width="8.0" height="8.0"/><rect x="512.0" y="56.0" width="8.0" height="8.0"/><rect x="512.0" y="64.0" width="8.0" height="8.0"/><rect x="512.0" y="72.0" width="8.0" height="8.0"/><rect x="520.0" y="72.0" width="8.0" height="8.0"/><rect x="520.0" y="80.0" width="8.0" height="8.0"/><rect x="520.0" y="88.0" width="8.0" height="8.0"/><rect x="520.0" y="96.0" width="8.0" height="8.0"/><rect x="520.0" y="104.0" width="8.0" height="8.0"/><rect x="520.0" y="112.0" width="8.0" height="8.0"/><rect x="520.0" y="120.0" width="8.0" height="8.0"/><rect x="520.0" y="128.0" width="8.0" height="8.0"/><rect x="520.0" y="136.0" width="8.0" height="8.0"/><rect x="528.0" y="136.0" width="8.0" height="8.0"/><rect x="528.0" y="144.0" width="8.0" height="8.0"/><rect x="528.0" y="152.0" width="8.0" height="8.0"/><rect x="536.0" y="96.0" width="7.4" height="8.0"/><rect x="536.0" y="104.0" width="7.4" height="8.0"/><rect x="536.0" y="112.0" width="7.4" height="8.0"/><rect x="536.0" y="120.0" width="7.4" height="8.0"/><rect x="536.0" y="128.0" width="7.4" height="8.0"/><rect x="536.0" y="136.0" width="7.4" height="8.0"/><rect x="536.0" y="144.0" width="7.4" height="8.0"/></g>
<g fill="#f0fdfc" stroke="none"><rect x="84.3" y="232.0" width="3.7" height="8.0"/><rect x="84.3" y="240.0" width="3.7" height="8.0"/><rect x="84.3" y="248.0" width="3.7" height="8.0"/><rect x="88.0" y="200.0" width="8.0" height="8.0"/><rect x="88.0" y="208.0" width="8.0" height="8.0"/><rect x="88.0" y="216.0" width="8.0" height="8.0"/><rect x="88.0" y="224.0" width="8.0" height="8.0"/><rect x="88.0" y="232.0" width="8.0" height="8.0"/><rect x="96.0" y="200.0" width="8.0" height="8.0"/><rect x="96.0" y="208.0" width="8.0" height="8.0"/><rect x="96.0" y="216.0" width="8.0" height="8.0"/><rect x="96.0" y="224.0" width="8.0" height="8.0"/><rect x="96.0" y="232.0" width="8.0" height="8.0"/><rect x="96.0" y="240.0" width="8.0" height="8.0"/><rect x="96.0" y="248.0" width="8.0" height="8.0"/><rect x="104.0" y="248.0" width="8.0" height="8.0"/><rect x="104.0" y="256.0" width="8.0" height="8.0"/><rect x="104.0" y="264.0" width="8.0" height="8.0"/><rect x="104.0" y="272.0" width="8.0" height="8.0"/><rect x="104.0" y="280.0" width="8.0" height="8.0"/><rect x="104.0" y="288.0" width="8.0" height="8.0"/><rect x="104.0" y="296.0" width="8.0" height="8.0"/><rect x="104.0" y="304.0" width="8.0" height="8.0"/><rect x="112.0" y="304.0" width="8.0" height="8.0"/><rect x="112.0" y="312.0" width="8.0" height="8.0"/><rect x="112.0" y="320.0" width="8.0" height="8.0"/><rect x="120.0" y="272.0" width="8.0" height="8.0"/><rect x="120.0" y="280.0" width="8.0" height="8.0"/><rect x="120.0" y="288.0" width="8.0" height="8.0"/><rect x="120.0" y="296.0" width="8.0" height="8.0"/><rect x="120.0" y="304.0" width="8.0" height="8.0"/><rect x="120.0" y="312.0" width="8.0" height="8.0"/><rect x="120.0" y="320.0" width="8.0" height="8.0"/><rect x="128.0" y="216.0" width="8.0" height="8.0"/><rect x="128.0" y="224.0" width="8.0" height="8.0"/><rect x="128.0" y="232.0" width="8.0" height="8.0"/><rect x="128.0" y="240.0" width="8.0" height="8.0"/><rect x="128.0" y="248.0" width="8.0" height="8.0"/><rect x="128.0" y="256.0" width="8.0" height="8.0"/><rect x="128.0" y="264.0" width="8.0" height="8.0"/><rect x="128.0" y="272.0" width="8.0" height="8.0"/><rect x="136.0" y="200.0" width="8.0" height="8.0"/><rect x="136.0" y="208.0" width="8.0" height="8.0"/><rect x="136.0" y="216.0" width="8.0" height="8.0"/><rect x="144.0" y="200.0" width="8.0" height="8.0"/><rect x="144.0" y="208.0" width="8.0" height="8.0"/><rect x="144.0" y="216.0" width="8.0" height="8.0"/><rect x="144.0" y="224.0" width="8.0" height="8.0"/><rect x="144.0" y="232.0" width="8.0" height="8.0"/><rect x="144.0" y="240.0" width="8.0" height="8.0"/><rect x="144.0" y="248.0" width="8.0" height="8.0"/><rect x="152.0" y="248.0" width="8.0" height="8.0"/><rect x="152.0" y="256.0" width="8.0" height="8.0"/><rect x="152.0" y="264.0" width="8.0" height="8.0"/><rect x="152.0" y="272.0" width="8.0" height="8.0"/><rect x="152.0" y="280.0" width="8.0" height="8.0"/><rect x="152.0" y="288.0" width="8.0" height="8.0"/><rect x="152.0" y="296.0" width="8.0" height="8.0"/><rect x="152.0" y="304.0" width="8.0" height="8.0"/><rect x="160.0" y="304.0" width="8.0" height="8.0"/><rect x="160.0" y="312.0" width="8.0" height="8.0"/><rect x="160.0" y="320.0" width="8.0" height="8.0"/><rect x="168.0" y="272.0" width="8.0" height="8.0"/><rect x="168.0" y="280.0" width="8.0" height="8.0"/><rect x="168.0" y="288.0" width="8.0" height="8.0"/><rect x="168.0" y="296.0" width="8.0" height="8.0"/><rect x="168.0" y="304.0" width="8.0" height="8.0"/><rect x="168.0" y="312.0" width="8.0" height="8.0"/><rect x="168.0" y="320.0" width="8.0" height="8.0"/><rect x="176.0" y="200.0" width="8.0" height="8.0"/><rect x="176.0" y="208.0" width="8.0" height="8.0"/><rect x="176.0" y="216.0" width="8.0" height="8.0"/><rect x="176.0" y="224.0" width="8.0" height="8.0"/><rect x="176.0" y="232.0" width="8.0" height="8.0"/><rect x="176.0" y="240.0" width="8.0" height="8.0"/><rect x="176.0" y="248.0" width="8.0" height="8.0"/><rect x="176.0" y="256.0" width="8.0" height="8.0"/><rect x="176.0" y="264.0" width="8.0" height="8.0"/><rect x="176.0" y="272.0" width="8.0" height="8.0"/><rect x="184.0" y="200.0" width="8.0" height="8.0"/><rect x="184.0" y="208.0" width="8.0" height="8.0"/><rect x="184.0" y="216.0" width="8.0" height="8.0"/><rect x="192.0" y="216.0" width="8.0" height="8.0"/><rect x="192.0" y="224.0" width="8.0" height="8.0"/><rect x="192.0" y="232.0" width="8.0" height="8.0"/><rect x="192.0" y="240.0" width="8.0" height="8.0"/><rect x="192.0" y="248.0" width="8.0" height="8.0"/><rect x="192.0" y="256.0" width="8.0" height="8.0"/><rect x="192.0" y="264.0" width="8.0" height="8.0"/><rect x="192.0" y="272.0" width="8.0" height="8.0"/><rect x="200.0" y="272.0" width="8.0" height="8.0"/><rect x="200.0" y="280.0" width="8.0" height="8.0"/><rect x="200.0" y="288.0" width="8.0" height="8.0"/><rect x="200.0" y="296.0" width="8.0" height="8.0"/><rect x="200.0" y="304.0" width="8.0" height="8.0"/><rect x="200.0" y="312.0" width="8.0" height="8.0"/><rect x="200.0" y="320.0" width="8.0" height="8.0"/><rect x="208.0" y="304.0" width="8.0" height="8.0"/><rect x="208.0" y="312.0" width="8.0" height="8.0"/><rect x="208.0" y="320.0" width="8.0" height="8.0"/><rect x="216.0" y="248.0" width="8.0" height="8.0"/><rect x="216.0" y="256.0" width="8.0" height="8.0"/><rect x="216.0" y="264.0" width="8.0" height="8.0"/><rect x="216.0" y="272.0" width="8.0" height="8.0"/><rect x="216.0" y="280.0" width="8.0" height="8.0"/><rect x="216.0" y="288.0" width="8.0" height="8.0"/><rect x="216.0" y="296.0" width="8.0" height="8.0"/><rect x="216.0" y="304.0" width="8.0" height="8.0"/><rect x="224.0" y="200.0" width="8.0" height="8.0"/><rect x="224.0" y="208.0" width="8.0" height="8.0"/><rect x="224.0" y="216.0" width="8.0" height="8.0"/><rect x="224.0" y="224.0" width="8.0" height="8.0"/><rect x="224.0" y="232.0" width="8.0" height="8.0"/><rect x="224.0" y="240.0" width="8.0" height="8.0"/><rect x="224.0" y="248.0" width="8.0" height="8.0"/><rect x="232.0" y="200.0" width="8.0" height="8.0"/><rect x="232.0" y="208.0" width="8.0" height="8.0"/><rect x="232.0" y="216.0" width="8.0" height="8.0"/><rect x="240.0" y="216.0" width="8.0" height="8.0"/><rect x="240.0" y="224.0" width="8.0" height="8.0"/><rect x="240.0" y="232.0" width="8.0" height="8.0"/><rect x="240.0" y="240.0" width="8.0" height="8.0"/><rect x="240.0" y="248.0" width="8.0" height="8.0"/><rect x="240.0" y="256.0" width="8.0" height="8.0"/><rect x="240.0" y="264.0" width="8.0" height="8.0"/><rect x="240.0" y="272.0" width="8.0" height="8.0"/><rect x="248.0" y="272.0" width="8.0" height="8.0"/><rect x="248.0" y="280.0" width="8.0" height="8.0"/><rect x="248.0" y="288.0" width="8.0" height="8.0"/><rect x="248.0" y="296.0" width="8.0" height="8.0"/><rect x="248.0" y="304.0" width="8.0" height="8.0"/><rect x="248.0" y="312.0" width="8.0" height="8.0"/><rect x="248.0" y="320.0" width="8.0" height="8.0"/><rect x="256.0" y="288.0" width="8.0" height="8.0"/><rect x="256.0" y="296.0" width="8.0" height="8.0"/><rect x="256.0" y="304.0" width="8.0" height="8.0"/><rect x="256.0" y="312.0" width="8.0" height="8.0"/><rect x="256.0" y="320.0" width="8.0" height="8.0"/><rect x="264.0" y="232.0" width="8.0" height="8.0"/><rect x="264.0" y="240.0" width="8.0" height="8.0"/><rect x="264.0" y="248.0" width="8.0" height="8.0"/><rect x="264.0" y="256.0" width="8.0" height="8.0"/><rect x="264.0" y="264.0" width="8.0" height="8.0"/><rect x="264.0" y="272.0" width="8.0" height="8.0"/><rect x="264.0" y="280.0" width="8.0" height="8.0"/><rect x="264.0" y="288.0" width="8.0" height="8.0"/><rect x="272.0" y="200.0" width="8.0" height="8.0"/><rect x="272.0" y="208.0" width="8.0" height="8.0"/><rect x="272.0" y="216.0" width="8.0" height="8.0"/><rect x="272.0" y="224.0" width="8.0" height="8.0"/><rect x="272.0" y="232.0" width="8.0" height="8.0"/><rect x="280.0" y="200.0" width="8.0" height="8.0"/><rect x="280.0" y="208.0" width="8.0" height="8.0"/><rect x="280.0" y="216.0" width="8.0" height="8.0"/><rect x="280.0" y="224.0" width="8.0" height="8.0"/><rect x="280.0" y="232.0" width="8.0" height="8.0"/><rect x="280.0" y="240.0" width="8.0" height="8.0"/><rect x="280.0" y="248.0" width="8.0" height="8.0"/><rect x="288.0" y="248.0" width="8.0" height="8.0"/><rect x="288.0" y="256.0" width="8.0" height="8.0"/><rect x="288.0" y="264.0" width="8.0" height="8.0"/><rect x="288.0" y="272.0" width="8.0" height="8.0"/><rect x="288.0" y="280.0" width="8.0" height="8.0"/><rect x="288.0" y="288.0" width="8.0" height="8.0"/><rect x="288.0" y="296.0" width="8.0" height="8.0"/><rect x="288.0" y="304.0" width="8.0" height="8.0"/><rect x="296.0" y="304.0" width="8.0" height="8.0"/><rect x="296.0" y="312.0" width="8.0" height="8.0"/><rect x="296.0" y="320.0" width="8.0" height="8.0"/><rect x="304.0" y="272.0" width="8.0" height="8.0"/><rect x="304.0" y="280.0" width="8.0" height="8.0"/><rect x="304.0" y="288.0" width="8.0" height="8.0"/><rect x="304.0" y="296.0" width="8.0" height="8.0"/><rect x="304.0" y="304.0" width="8.0" height="8.0"/><rect x="304.0" y="312.0" width="8.0" height="8.0"/><rect x="304.0" y="320.0" width="8.0" height="8.0"/><rect x="312.0" y="216.0" width="8.0" height="8.0"/><rect x="312.0" y="224.0" width="8.0" height="8.0"/><rect x="312.0" y="232.0" width="8.0" height="8.0"/><rect x="312.0" y="240.0" width="8.0" height="8.0"/><rect x="312.0" y="248.0" width="8.0" height="8.0"/><rect x="312.0" y="256.0" width="8.0" height="8.0"/><rect x="312.0" y="264.0" width="8.0" height="8.0"/><rect x="312.0" y="272.0" width="8.0" height="8.0"/><rect x="320.0" y="200.0" width="8.0" height="8.0"/><rect x="320.0" y="208.0" width="8.0" height="8.0"/><rect x="320.0" y="216.0" width="8.0" height="8.0"/><rect x="328.0" y="200.0" width="8.0" height="8.0"/><rect x="328.0" y="208.0" width="8.0" height="8.0"/><rect x="328.0" y="216.0" width="8.0" height="8.0"/><rect x="328.0" y="224.0" width="8.0" height="8.0"/><rect x="328.0" y="232.0" width="8.0" height="8.0"/><rect x="328.0" y="240.0" width="8.0" height="8.0"/><rect x="328.0" y="248.0" width="8.0" height="8.0"/><rect x="336.0" y="248.0" width="8.0" height="8.0"/><rect x="336.0" y="256.0" width="8.0" height="8.0"/><rect x="336.0" y="264.0" width="8.0" height="8.0"/><rect x="336.0" y="272.0" width="8.0" height="8.0"/><rect x="336.0" y="280.0" width="8.0" height="8.0"/><rect x="336.0" y="288.0" width="8.0" height="8.0"/><rect x="336.0" y="296.0" width="8.0" height="8.0"/><rect x="336.0" y="304.0" width="8.0" height="8.0"/><rect x="344.0" y="304.0" width="8.0" height="8.0"/><rect x="344.0" y="312.0" width="8.0" height="8.0"/><rect x="344.0" y="320.0" width="8.0" height="8.0"/><rect x="352.0" y="248.0" width="8.0" height="8.0"/><rect x="352.0" y="256.0" width="8.0" height="8.0"/><rect x="352.0" y="264.0" width="8.0" height="8.0"/><rect x="352.0" y="272.0" width="8.0" height="8.0"/><rect x="352.0" y="280.0" width="8.0" height="8.0"/><rect x="352.0" y="288.0" width="8.0" height="8.0"/><rect x="352.0" y="296.0" width="8.0" height="8.0"/><rect x="352.0" y="304.0" width="8.0" height="8.0"/><rect x="352.0" y="312.0" width="8.0" height="8.0"/><rect x="352.0" y="320.0" width="8.0" height="8.0"/><rect x="360.0" y="200.0" width="8.0" height="8.0"/><rect x="360.0" y="208.0" width="8.0" height="8.0"/><rect x="360.0" y="216.0" width="8.0" height="8.0"/><rect x="360.0" y="224.0" width="8.0" height="8.0"/><rect x="360.0" y="232.0" width="8.0" height="8.0"/><rect x="360.0" y="240.0" width="8.0" height="8.0"/><rect x="360.0" y="248.0" width="8.0" height="8.0"/><rect x="368.0" y="200.0" width="8.0" height="8.0"/><rect x="368.0" y="208.0" width="8.0" height="8.0"/><rect x="368.0" y="216.0" width="8.0" height="8.0"/><rect x="376.0" y="216.0" width="8.0" height="8.0"/><rect x="376.0" y="224.0" width="8.0" height="8.0"/><rect x="376.0" y="232.0" width="8.0" height="8.0"/><rect x="376.0" y="240.0" width="8.0" height="8.0"/><rect x="376.0" y="248.0" width="8.0" height="8.0"/><rect x="376.0" y="256.0" width="8.0" height="8.0"/><rect x="376.0" y="264.0" width="8.0" height="8.0"/><rect x="376.0" y="272.0" width="8.0" height="8.0"/><rect x="384.0" y="272.0" width="8.0" height="8.0"/><rect x="384.0" y="280.0" width="8.0" height="8.0"/><rect x="384.0" y="288.0" width="8.0" height="8.0"/><rect x="384.0" y="296.0" width="8.0" height="8.0"/><rect x="384.0" y="304.0" width="8.0" height="8.0"/><rect x="384.0" y="312.0" width="8.0" height="8.0"/><rect x="384.0" y="320.0" width="8.0" height="8.0"/><rect x="392.0" y="304.0" width="8.0" height="8.0"/><rect x="392.0" y="312.0" width="8.0" height="8.0"/><rect x="392.0" y="320.0" width="8.0" height="8.0"/><rect x="400.0" y="248.0" width="8.0" height="8.0"/><rect x="400.0" y="256.0" width="8.0" height="8.0"/><rect x="400.0" y="264.0" width="8.0" height="8.0"/><rect x="400.0" y="272.0" width="8.0" height="8.0"/><rect x="400.0" y="280.0" width="8.0" height="8.0"/><rect x="400.0" y="288.0" width="8.0" height="8.0"/><rect x="400.0" y="296.0" width="8.0" height="8.0"/><rect x="400.0" y="304.0" width="8.0" height="8.0"/><rect x="408.0" y="200.0" width="8.0" height="8.0"/><rect x="408.0" y="208.0" width="8.0" height="8.0"/><rect x="408.0" y="216.0" width="8.0" height="8.0"/><rect x="408.0" y="224.0" width="8.0" height="8.0"/><rect x="408.0" y="232.0" width="8.0" height="8.0"/><rect x="408.0" y="240.0" width="8.0" height="8.0"/><rect x="408.0" y="248.0" width="8.0" height="8.0"/><rect x="416.0" y="200.0" width="8.0" height="8.0"/><rect x="416.0" y="208.0" width="8.0" height="8.0"/><rect x="416.0" y="216.0" width="8.0" height="8.0"/><rect x="424.0" y="216.0" width="8.0" height="8.0"/><rect x="424.0" y="224.0" width="8.0" height="8.0"/><rect x="424.0" y="232.0" width="8.0" height="8.0"/><rect x="424.0" y="240.0" width="8.0" height="8.0"/><rect x="424.0" y="248.0" width="8.0" height="8.0"/><rect x="424.0" y="256.0" width="8.0" height="8.0"/><rect x="424.0" y="264.0" width="8.0" height="8.0"/><rect x="424.0" y="272.0" width="8.0" height="8.0"/><rect x="424.0" y="280.0" width="8.0" height="8.0"/><rect x="424.0" y="288.0" width="8.0" height="8.0"/><rect x="432.0" y="288.0" width="8.0" height="8.0"/><rect x="432.0" y="296.0" width="8.0" height="8.0"/><rect x="432.0" y="304.0" width="8.0" height="8.0"/><rect x="432.0" y="312.0" width="8.0" height="8.0"/><rect x="432.0" y="320.0" width="8.0" height="8.0"/><rect x="440.0" y="288.0" width="8.0" height="8.0"/><rect x="440.0" y="296.0" width="8.0" height="8.0"/><rect x="440.0" y="304.0" width="8.0" height="8.0"/><rect x="440.0" y="312.0" width="8.0" height="8.0"/><rect x="440.0" y="320.0" width="8.0" height="8.0"/><rect x="448.0" y="232.0" width="8.0" height="8.0"/><rect x="448.0" y="240.0" width="8.0" height="8.0"/><rect x="448.0" y="248.0" width="8.0" height="8.0"/><rect x="448.0" y="256.0" width="8.0" height="8.0"/><rect x="448.0" y="264.0" width="8.0" height="8.0"/><rect x="448.0" y="272.0" width="8.0" height="8.0"/><rect x="448.0" y="280.0" width="8.0" height="8.0"/><rect x="448.0" y="288.0" width="8.0" height="8.0"/><rect x="456.0" y="200.0" width="8.0" height="8.0"/><rect x="456.0" y="208.0" width="8.0" height="8.0"/><rect x="456.0" y="216.0" width="8.0" height="8.0"/><rect x="456.0" y="224.0" width="8.0" height="8.0"/><rect x="456.0" y="232.0" width="8.0" height="8.0"/><rect x="464.0" y="200.0" width="8.0" height="8.0"/><rect x="464.0" y="208.0" width="8.0" height="8.0"/><rect x="464.0" y="216.0" width="8.0" height="8.0"/><rect x="464.0" y="224.0" width="8.0" height="8.0"/><rect x="464.0" y="232.0" width="8.0" height="8.0"/><rect x="464.0" y="240.0" width="8.0" height="8.0"/><rect x="464.0" y="248.0" width="8.0" height="8.0"/><rect x="472.0" y="248.0" width="8.0" height="8.0"/><rect x="472.0" y="256.0" width="8.0" height="8.0"/><rect x="472.0" y="264.0" width="8.0" height="8.0"/><rect x="472.0" y="272.0" width="8.0" height="8.0"/><rect x="472.0" y="280.0" width="8.0" height="8.0"/><rect x="472.0" y="288.0" width="8.0" height="8.0"/><rect x="472.0" y="296.0" width="8.0" height="8.0"/><rect x="472.0" y="304.0" width="8.0" height="8.0"/><rect x="480.0" y="304.0" width="8.0" height="8.0"/><rect x="480.0" y="312.0" width="8.0" height="8.0"/><rect x="480.0" y="320.0" width="8.0" height="8.0"/><rect x="488.0" y="272.0" width="8.0" height="8.0"/><rect x="488.0" y="280.0" width="8.0" height="8.0"/><rect x="488.0" y="288.0" width="8.0" height="8.0"/><rect x="488.0" y="296.0" width="8.0" height="8.0"/><rect x="488.0" y="304.0" width="8.0" height="8.0"/><rect x="488.0" y="312.0" width="8.0" height="8.0"/><rect x="488.0" y="320.0" width="8.0" height="8.0"/><rect x="496.0" y="216.0" width="8.0" height="8.0"/><rect x="496.0" y="224.0" width="8.0" height="8.0"/><rect x="496.0" y="232.0" width="8.0" height="8.0"/><rect x="496.0" y="240.0" width="8.0" height="8.0"/><rect x="496.0" y="248.0" width="8.0" height="8.0"/><rect x="496.0" y="256.0" width="8.0" height="8.0"/><rect x="496.0" y="264.0" width="8.0" height="8.0"/><rect x="496.0" y="272.0" width="8.0" height="8.0"/><rect x="504.0" y="200.0" width="8.0" height="8.0"/><rect x="504.0" y="208.0" width="8.0" height="8.0"/><rect x="504.0" y="216.0" width="8.0" height="8.0"/><rect x="512.0" y="200.0" width="8.0" height="8.0"/><rect x="512.0" y="208.0" width="8.0" height="8.0"/><rect x="512.0" y="216.0" width="8.0" height="8.0"/><rect x="512.0" y="224.0" width="8.0" height="8.0"/><rect x="512.0" y="232.0" width="8.0" height="8.0"/><rect x="512.0" y="240.0" width="8.0" height="8.0"/><rect x="512.0" y="248.0" width="8.0" height="8.0"/><rect x="520.0" y="248.0" width="8.0" height="8.0"/><rect x="520.0" y="256.0" width="8.0" height="8.0"/><rect x="520.0" y="264.0" width="8.0" height="8.0"/><rect x="520.0" y="272.0" width="8.0" height="8.0"/><rect x="520.0" y="280.0" width="8.0" height="8.0"/><rect x="520.0" y="288.0" width="8.0" height="8.0"/><rect x="520.0" y="296.0" width="8.0" height="8.0"/><rect x="520.0" y="304.0" width="8.0" height="8.0"/><rect x="528.0" y="304.0" width="8.0" height="8.0"/><rect x="528.0" y="312.0" width="8.0" height="8.0"/><rect x="528.0" y="320.0" width="8.0" height="8.0"/><rect x="536.0" y="272.0" width="7.4" height="8.0"/><rect x="536.0" y="280.0" width="7.4" height="8.0"/><rect x="536.0" y="288.0" width="7.4" height="8.0"/><rect x="536.0" y="296.0" width="7.4" height="8.0"/><rect x="536.0" y="304.0" width="7.4" height="8.0"/></g>
<polyline points="84.30,98.19 85.35,76.53 87.17,76.53 88.31,61.05 88.67,61.05 89.81,45.58 91.50,45.58 93.00,30.11 99.15,30.11 100.65,45.58 102.34,45.58 103.49,61.05 103.84,61.05 104.99,76.53 106.80,76.53 108.30,107.47 110.12,107.47 111.27,122.95 111.62,122.95 112.77,138.42 114.46,138.42 115.96,153.89 122.11,153.89 123.61,138.42 125.30,138.42 126.44,122.95 126.80,122.95 127.94,107.47 129.76,107.47 131.26,76.53 133.08,76.53 134.22,61.05 134.58,61.05 135.72,45.58 137.41,45.58 138.91,30.11 145.06,30.11 146.56,45.58 148.25,45.58 149.40,61.05 149.75,61.05 150.90,76.53 152.72,76.53 154.22,107.47 156.03,107.47 157.18,122.95 157.53,122.95 158.68,138.42 160.37,138.42 161.87,153.89 168.02,153.89 169.52,138.42 171.21,138.42 172.35,122.95 172.71,122.95 173.85,107.47 175.67,107.47 177.17,76.53 178.99,76.53 180.13,61.05 180.49,61.05 181.63,45.58 183.32,45.58 184.82,30.11 190.97,30.11 192.47,45.58 194.16,45.58 195.31,61.05 195.66,61.05 196.81,76.53 198.62,76.53 200.12,107.47 201.94,107.47 203.09,122.95 203.44,122.95 204.59,138.42 206.28,138.42 207.78,153.89 213.93,153.89 215.43,138.42 217.12,138.42 218.26,122.95 218.62,122.95 219.76,107.47 221.58,107.47 223.08,76.53 224.90,76.53 226.04,61.05 226.40,61.05 227.54,45.58 229.23,45.58 230.73,30.11 236.88,30.11 238.38,45.58 240.07,45.58 241.22,61.05 241.57,61.05 242.72,76.53 244.54,76.53 246.04,107.47 247.85,107.47 249.00,122.95 249.35,122.95 250.50,138.42 252.19,138.42 253.69,153.89 259.84,153.89 261.34,138.42 263.03,138.42 264.17,122.95 264.53,122.95 265.67,107.47 267.49,107.47 268.99,76.53 270.81,76.53 271.95,61.05 272.31,61.05 273.45,45.58 275.14,45.58 276.64,30.11 282.79,30.11 284.29,45.58 285.98,45.58 287.13,61.05 287.48,61.05 288.63,76.53 290.44,76.53 291.94,107.47 293.76,107.47 294.91,122.95 295.26,122.95 296.41,138.42 298.10,138.42 299.60,153.89 305.75,153.89 307.25,138.42 308.94,138.42 310.08,122.95 310.44,122.95 311.58,107.47 313.40,107.47 314.90,76.53 316.72,76.53 317.86,61.05 318.22,61.05 319.36,45.58 321.05,45.58 322.55,30.11 328.70,30.11 330.20,45.58 331.89,45.58 333.04,61.05 333.39,61.05 334.54,76.53 336.36,76.53 337.86,107.47 339.67,107.47 340.82,122.95 341.17,122.95 342.32,138.42 344.01,138.42 345.51,153.89 351.66,153.89 353.16,138.42 354.85,138.42 355.99,122.95 356.35,122.95 357.49,107.47 359.31,107.47 360.81,76.53 362.63,76.53 363.77,61.05 364.13,61.05 365.27,45.58 366.96,45.58 368.46,30.11 374.61,30.11 376.11,45.58 377.80,45.58 378.95,61.05 379.30,61.05 380.45,76.53 382.26,76.53 383.76,107.47 385.58,107.47 386.73,122.95 387.08,122.95 388.23,138.42 389.92,138.42 391.42,153.89 397.57,153.89 399.07,138.42 400.76,138.42 401.90,122.95 402.26,122.95 403.40,107.47 405.22,107.47 406.72,76.53 408.54,76.53 409.68,61.05 410.04,61.05 411.18,45.58 412.87,45.58 414.37,30.11 420.52,30.11 422.02,45.58 423.71,45.58 424.86,61.05 425.21,61.05 426.36,76.53 428.18,76.53 429.68,107.47 431.49,107.47 432.64,122.95 432.99,122.95 434.14,138.42 435.83,138.42 437.33,153.89 443.48,153.89 444.98,138.42 446.67,138.42 447.81,122.95 448.17,122.95 449.31,107.47 451.13,107.47 452.63,76.53 454.45,76.53 455.59,61.05 455.95,61.05 457.09,45.58 458.78,45.58 460.28,30.11 466.43,30.11 467.93,45.58 469.62,45.58 470.77,61.05 471.12,61.05 472.27,76.53 474.08,76.53 475.58,107.47 477.40,107.47 478.55,122.95 478.90,122.95 480.05,138.42 481.74,138.42 483.24,153.89 489.39,153.89 490.89,138.42 492.58,138.42 493.72,122.95 494.08,122.95 495.22,107.47 497.04,107.47 498.54,76.53 500.36,76.53 501.50,61.05 501.86,61.05 503.00,45.58 504.69,45.58 506.19,30.11 512.34,30.11 513.84,45.58 515.53,45.58 516.68,61.05 517.03,61.05 518.18,76.53 519.99,76.53 521.49,107.47 523.31,107.47 524.46,122.95 524.81,122.95 525.96,138.42 527.65,138.42 529.15,153.89 535.30,153.89 536.80,138.42 538.49,138.42 539.63,122.95 539.99,122.95 541.13,107.47 542.95,107.47 543.40,98.19" fill="none" stroke="#ffecf5" stroke-width="7" stroke-linejoin="round" clip-path="url(#cu)"/>
<polyline points="84.30,248.40 87.62,248.40 87.62,234.00 88.76,234.00 88.76,219.60 91.95,219.60 91.95,205.20 99.60,205.20 99.60,219.60 102.79,219.60 102.79,234.00 103.94,234.00 103.94,248.40 107.25,248.40 107.25,277.20 110.57,277.20 110.57,291.60 111.72,291.60 111.72,306.00 114.91,306.00 114.91,320.40 122.56,320.40 122.56,306.00 125.75,306.00 125.75,291.60 126.89,291.60 126.89,277.20 130.21,277.20 130.21,248.40 133.53,248.40 133.53,234.00 134.67,234.00 134.67,219.60 137.86,219.60 137.86,205.20 145.51,205.20 145.51,219.60 148.70,219.60 148.70,234.00 149.85,234.00 149.85,248.40 153.16,248.40 153.16,277.20 156.48,277.20 156.48,291.60 157.63,291.60 157.63,306.00 160.82,306.00 160.82,320.40 168.47,320.40 168.47,306.00 171.66,306.00 171.66,291.60 172.80,291.60 172.80,277.20 176.12,277.20 176.12,248.40 179.44,248.40 179.44,234.00 180.58,234.00 180.58,219.60 183.77,219.60 183.77,205.20 191.42,205.20 191.42,219.60 194.61,219.60 194.61,234.00 195.76,234.00 195.76,248.40 199.07,248.40 199.07,277.20 202.39,277.20 202.39,291.60 203.54,291.60 203.54,306.00 206.73,306.00 206.73,320.40 214.38,320.40 214.38,306.00 217.57,306.00 217.57,291.60 218.71,291.60 218.71,277.20 222.03,277.20 222.03,248.40 225.35,248.40 225.35,234.00 226.49,234.00 226.49,219.60 229.68,219.60 229.68,205.20 237.33,205.20 237.33,219.60 240.52,219.60 240.52,234.00 241.67,234.00 241.67,248.40 244.99,248.40 244.99,277.20 248.30,277.20 248.30,291.60 249.45,291.60 249.45,306.00 252.64,306.00 252.64,320.40 260.29,320.40 260.29,306.00 263.48,306.00 263.48,291.60 264.62,291.60 264.62,277.20 267.94,277.20 267.94,248.40 271.26,248.40 271.26,234.00 272.40,234.00 272.40,219.60 275.59,219.60 275.59,205.20 283.24,205.20 283.24,219.60 286.43,219.60 286.43,234.00 287.58,234.00 287.58,248.40 290.89,248.40 290.89,277.20 294.21,277.20 294.21,291.60 295.36,291.60 295.36,306.00 298.55,306.00 298.55,320.40 306.20,320.40 306.20,306.00 309.39,306.00 309.39,291.60 310.53,291.60 310.53,277.20 313.85,277.20 313.85,248.40 317.17,248.40 317.17,234.00 318.31,234.00 318.31,219.60 321.50,219.60 321.50,205.20 329.15,205.20 329.15,219.60 332.34,219.60 332.34,234.00 333.49,234.00 333.49,248.40 336.81,248.40 336.81,277.20 340.12,277.20 340.12,291.60 341.27,291.60 341.27,306.00 344.46,306.00 344.46,320.40 352.11,320.40 352.11,306.00 355.30,306.00 355.30,291.60 356.44,291.60 356.44,277.20 359.76,277.20 359.76,248.40 363.08,248.40 363.08,234.00 364.22,234.00 364.22,219.60 367.41,219.60 367.41,205.20 375.06,205.20 375.06,219.60 378.25,219.60 378.25,234.00 379.40,234.00 379.40,248.40 382.71,248.40 382.71,277.20 386.03,277.20 386.03,291.60 387.18,291.60 387.18,306.00 390.37,306.00 390.37,320.40 398.02,320.40 398.02,306.00 401.21,306.00 401.21,291.60 402.35,291.60 402.35,277.20 405.67,277.20 405.67,248.40 408.99,248.40 408.99,234.00 410.13,234.00 410.13,219.60 413.32,219.60 413.32,205.20 420.97,205.20 420.97,219.60 424.16,219.60 424.16,234.00 425.31,234.00 425.31,248.40 428.62,248.40 428.62,277.20 431.94,277.20 431.94,291.60 433.09,291.60 433.09,306.00 436.28,306.00 436.28,320.40 443.93,320.40 443.93,306.00 447.12,306.00 447.12,291.60 448.26,291.60 448.26,277.20 451.58,277.20 451.58,248.40 454.90,248.40 454.90,234.00 456.04,234.00 456.04,219.60 459.23,219.60 459.23,205.20 466.88,205.20 466.88,219.60 470.07,219.60 470.07,234.00 471.22,234.00 471.22,248.40 474.53,248.40 474.53,277.20 477.85,277.20 477.85,291.60 479.00,291.60 479.00,306.00 482.19,306.00 482.19,320.40 489.84,320.40 489.84,306.00 493.03,306.00 493.03,291.60 494.17,291.60 494.17,277.20 497.49,277.20 497.49,248.40 500.81,248.40 500.81,234.00 501.95,234.00 501.95,219.60 505.14,219.60 505.14,205.20 512.79,205.20 512.79,219.60 515.98,219.60 515.98,234.00 517.13,234.00 517.13,248.40 520.44,248.40 520.44,277.20 523.76,277.20 523.76,291.60 524.91,291.60 524.91,306.00 528.10,306.00 528.10,320.40 535.75,320.40 535.75,306.00 538.94,306.00 538.94,291.60 540.08,291.60 540.08,277.20 543.40,277.20" fill="none" stroke="#ebfcfa" stroke-width="7" stroke-linejoin="round" clip-path="url(#cl)"/>
<g stroke="#e6e6e6" stroke-width="1.4" fill="none"><line x1="84.3" y1="60.55" x2="543.4" y2="60.55"/><line x1="84.3" y1="92.00" x2="543.4" y2="92.00"/><line x1="84.3" y1="123.45" x2="543.4" y2="123.45"/></g>
<g stroke="#d0d0d0" stroke-width="1" stroke-dasharray="1.5 1" fill="none"><line x1="84.3" y1="226.80" x2="543.4" y2="226.80"/><line x1="84.3" y1="298.80" x2="543.4" y2="298.80"/></g>

<g stroke="#d8d8d8" stroke-width="0.7" stroke-dasharray="1 1.5" fill="none"><line x1="130.21" y1="14.2" x2="130.21" y2="169.5"/><line x1="176.12" y1="14.2" x2="176.12" y2="169.5"/><line x1="222.03" y1="14.2" x2="222.03" y2="169.5"/><line x1="267.94" y1="14.2" x2="267.94" y2="169.5"/><line x1="313.85" y1="14.2" x2="313.85" y2="169.5"/><line x1="359.76" y1="14.2" x2="359.76" y2="169.5"/><line x1="405.67" y1="14.2" x2="405.67" y2="169.5"/><line x1="451.58" y1="14.2" x2="451.58" y2="169.5"/><line x1="497.49" y1="14.2" x2="497.49" y2="169.5"/></g>
<polyline points="84.30,98.19 85.35,76.53 87.17,76.53 88.31,61.05 88.67,61.05 89.81,45.58 91.50,45.58 93.00,30.11 99.15,30.11 100.65,45.58 102.34,45.58 103.49,61.05 103.84,61.05 104.99,76.53 106.80,76.53 108.30,107.47 110.12,107.47 111.27,122.95 111.62,122.95 112.77,138.42 114.46,138.42 115.96,153.89 122.11,153.89 123.61,138.42 125.30,138.42 126.44,122.95 126.80,122.95 127.94,107.47 129.76,107.47 131.26,76.53 133.08,76.53 134.22,61.05 134.58,61.05 135.72,45.58 137.41,45.58 138.91,30.11 145.06,30.11 146.56,45.58 148.25,45.58 149.40,61.05 149.75,61.05 150.90,76.53 152.72,76.53 154.22,107.47 156.03,107.47 157.18,122.95 157.53,122.95 158.68,138.42 160.37,138.42 161.87,153.89 168.02,153.89 169.52,138.42 171.21,138.42 172.35,122.95 172.71,122.95 173.85,107.47 175.67,107.47 177.17,76.53 178.99,76.53 180.13,61.05 180.49,61.05 181.63,45.58 183.32,45.58 184.82,30.11 190.97,30.11 192.47,45.58 194.16,45.58 195.31,61.05 195.66,61.05 196.81,76.53 198.62,76.53 200.12,107.47 201.94,107.47 203.09,122.95 203.44,122.95 204.59,138.42 206.28,138.42 207.78,153.89 213.93,153.89 215.43,138.42 217.12,138.42 218.26,122.95 218.62,122.95 219.76,107.47 221.58,107.47 223.08,76.53 224.90,76.53 226.04,61.05 226.40,61.05 227.54,45.58 229.23,45.58 230.73,30.11 236.88,30.11 238.38,45.58 240.07,45.58 241.22,61.05 241.57,61.05 242.72,76.53 244.54,76.53 246.04,107.47 247.85,107.47 249.00,122.95 249.35,122.95 250.50,138.42 252.19,138.42 253.69,153.89 259.84,153.89 261.34,138.42 263.03,138.42 264.17,122.95 264.53,122.95 265.67,107.47 267.49,107.47 268.99,76.53 270.81,76.53 271.95,61.05 272.31,61.05 273.45,45.58 275.14,45.58 276.64,30.11 282.79,30.11 284.29,45.58 285.98,45.58 287.13,61.05 287.48,61.05 288.63,76.53 290.44,76.53 291.94,107.47 293.76,107.47 294.91,122.95 295.26,122.95 296.41,138.42 298.10,138.42 299.60,153.89 305.75,153.89 307.25,138.42 308.94,138.42 310.08,122.95 310.44,122.95 311.58,107.47 313.40,107.47 314.90,76.53 316.72,76.53 317.86,61.05 318.22,61.05 319.36,45.58 321.05,45.58 322.55,30.11 328.70,30.11 330.20,45.58 331.89,45.58 333.04,61.05 333.39,61.05 334.54,76.53 336.36,76.53 337.86,107.47 339.67,107.47 340.82,122.95 341.17,122.95 342.32,138.42 344.01,138.42 345.51,153.89 351.66,153.89 353.16,138.42 354.85,138.42 355.99,122.95 356.35,122.95 357.49,107.47 359.31,107.47 360.81,76.53 362.63,76.53 363.77,61.05 364.13,61.05 365.27,45.58 366.96,45.58 368.46,30.11 374.61,30.11 376.11,45.58 377.80,45.58 378.95,61.05 379.30,61.05 380.45,76.53 382.26,76.53 383.76,107.47 385.58,107.47 386.73,122.95 387.08,122.95 388.23,138.42 389.92,138.42 391.42,153.89 397.57,153.89 399.07,138.42 400.76,138.42 401.90,122.95 402.26,122.95 403.40,107.47 405.22,107.47 406.72,76.53 408.54,76.53 409.68,61.05 410.04,61.05 411.18,45.58 412.87,45.58 414.37,30.11 420.52,30.11 422.02,45.58 423.71,45.58 424.86,61.05 425.21,61.05 426.36,76.53 428.18,76.53 429.68,107.47 431.49,107.47 432.64,122.95 432.99,122.95 434.14,138.42 435.83,138.42 437.33,153.89 443.48,153.89 444.98,138.42 446.67,138.42 447.81,122.95 448.17,122.95 449.31,107.47 451.13,107.47 452.63,76.53 454.45,76.53 455.59,61.05 455.95,61.05 457.09,45.58 458.78,45.58 460.28,30.11 466.43,30.11 467.93,45.58 469.62,45.58 470.77,61.05 471.12,61.05 472.27,76.53 474.08,76.53 475.58,107.47 477.40,107.47 478.55,122.95 478.90,122.95 480.05,138.42 481.74,138.42 483.24,153.89 489.39,153.89 490.89,138.42 492.58,138.42 493.72,122.95 494.08,122.95 495.22,107.47 497.04,107.47 498.54,76.53 500.36,76.53 501.50,61.05 501.86,61.05 503.00,45.58 504.69,45.58 506.19,30.11 512.34,30.11 513.84,45.58 515.53,45.58 516.68,61.05 517.03,61.05 518.18,76.53 519.99,76.53 521.49,107.47 523.31,107.47 524.46,122.95 524.81,122.95 525.96,138.42 527.65,138.42 529.15,153.89 535.30,153.89 536.80,138.42 538.49,138.42 539.63,122.95 539.99,122.95 541.13,107.47 542.95,107.47 543.40,98.19" fill="none" stroke="#6c4224" stroke-width="1.6" stroke-linejoin="miter"/>
<polyline points="84.30,248.40 87.62,248.40 87.62,234.00 88.76,234.00 88.76,219.60 91.95,219.60 91.95,205.20 99.60,205.20 99.60,219.60 102.79,219.60 102.79,234.00 103.94,234.00 103.94,248.40 107.25,248.40 107.25,277.20 110.57,277.20 110.57,291.60 111.72,291.60 111.72,306.00 114.91,306.00 114.91,320.40 122.56,320.40 122.56,306.00 125.75,306.00 125.75,291.60 126.89,291.60 126.89,277.20 130.21,277.20 130.21,248.40 133.53,248.40 133.53,234.00 134.67,234.00 134.67,219.60 137.86,219.60 137.86,205.20 145.51,205.20 145.51,219.60 148.70,219.60 148.70,234.00 149.85,234.00 149.85,248.40 153.16,248.40 153.16,277.20 156.48,277.20 156.48,291.60 157.63,291.60 157.63,306.00 160.82,306.00 160.82,320.40 168.47,320.40 168.47,306.00 171.66,306.00 171.66,291.60 172.80,291.60 172.80,277.20 176.12,277.20 176.12,248.40 179.44,248.40 179.44,234.00 180.58,234.00 180.58,219.60 183.77,219.60 183.77,205.20 191.42,205.20 191.42,219.60 194.61,219.60 194.61,234.00 195.76,234.00 195.76,248.40 199.07,248.40 199.07,277.20 202.39,277.20 202.39,291.60 203.54,291.60 203.54,306.00 206.73,306.00 206.73,320.40 214.38,320.40 214.38,306.00 217.57,306.00 217.57,291.60 218.71,291.60 218.71,277.20 222.03,277.20 222.03,248.40 225.35,248.40 225.35,234.00 226.49,234.00 226.49,219.60 229.68,219.60 229.68,205.20 237.33,205.20 237.33,219.60 240.52,219.60 240.52,234.00 241.67,234.00 241.67,248.40 244.99,248.40 244.99,277.20 248.30,277.20 248.30,291.60 249.45,291.60 249.45,306.00 252.64,306.00 252.64,320.40 260.29,320.40 260.29,306.00 263.48,306.00 263.48,291.60 264.62,291.60 264.62,277.20 267.94,277.20 267.94,248.40 271.26,248.40 271.26,234.00 272.40,234.00 272.40,219.60 275.59,219.60 275.59,205.20 283.24,205.20 283.24,219.60 286.43,219.60 286.43,234.00 287.58,234.00 287.58,248.40 290.89,248.40 290.89,277.20 294.21,277.20 294.21,291.60 295.36,291.60 295.36,306.00 298.55,306.00 298.55,320.40 306.20,320.40 306.20,306.00 309.39,306.00 309.39,291.60 310.53,291.60 310.53,277.20 313.85,277.20 313.85,248.40 317.17,248.40 317.17,234.00 318.31,234.00 318.31,219.60 321.50,219.60 321.50,205.20 329.15,205.20 329.15,219.60 332.34,219.60 332.34,234.00 333.49,234.00 333.49,248.40 336.81,248.40 336.81,277.20 340.12,277.20 340.12,291.60 341.27,291.60 341.27,306.00 344.46,306.00 344.46,320.40 352.11,320.40 352.11,306.00 355.30,306.00 355.30,291.60 356.44,291.60 356.44,277.20 359.76,277.20 359.76,248.40 363.08,248.40 363.08,234.00 364.22,234.00 364.22,219.60 367.41,219.60 367.41,205.20 375.06,205.20 375.06,219.60 378.25,219.60 378.25,234.00 379.40,234.00 379.40,248.40 382.71,248.40 382.71,277.20 386.03,277.20 386.03,291.60 387.18,291.60 387.18,306.00 390.37,306.00 390.37,320.40 398.02,320.40 398.02,306.00 401.21,306.00 401.21,291.60 402.35,291.60 402.35,277.20 405.67,277.20 405.67,248.40 408.99,248.40 408.99,234.00 410.13,234.00 410.13,219.60 413.32,219.60 413.32,205.20 420.97,205.20 420.97,219.60 424.16,219.60 424.16,234.00 425.31,234.00 425.31,248.40 428.62,248.40 428.62,277.20 431.94,277.20 431.94,291.60 433.09,291.60 433.09,306.00 436.28,306.00 436.28,320.40 443.93,320.40 443.93,306.00 447.12,306.00 447.12,291.60 448.26,291.60 448.26,277.20 451.58,277.20 451.58,248.40 454.90,248.40 454.90,234.00 456.04,234.00 456.04,219.60 459.23,219.60 459.23,205.20 466.88,205.20 466.88,219.60 470.07,219.60 470.07,234.00 471.22,234.00 471.22,248.40 474.53,248.40 474.53,277.20 477.85,277.20 477.85,291.60 479.00,291.60 479.00,306.00 482.19,306.00 482.19,320.40 489.84,320.40 489.84,306.00 493.03,306.00 493.03,291.60 494.17,291.60 494.17,277.20 497.49,277.20 497.49,248.40 500.81,248.40 500.81,234.00 501.95,234.00 501.95,219.60 505.14,219.60 505.14,205.20 512.79,205.20 512.79,219.60 515.98,219.60 515.98,234.00 517.13,234.00 517.13,248.40 520.44,248.40 520.44,277.20 523.76,277.20 523.76,291.60 524.91,291.60 524.91,306.00 528.10,306.00 528.10,320.40 535.75,320.40 535.75,306.00 538.94,306.00 538.94,291.60 540.08,291.60 540.08,277.20 543.40,277.20" fill="none" stroke="#3a4a9a" stroke-width="1.4" stroke-linejoin="miter"/>
<g stroke="#000" stroke-width="1.3" fill="none">
<line x1="130.21" y1="14.2" x2="130.21" y2="19.7"/><line x1="130.21" y1="169.5" x2="130.21" y2="164.0"/><line x1="130.21" y1="190.8" x2="130.21" y2="196.3"/><line x1="130.21" y1="334.8" x2="130.21" y2="329.3"/><line x1="176.12" y1="14.2" x2="176.12" y2="19.7"/><line x1="176.12" y1="169.5" x2="176.12" y2="164.0"/><line x1="176.12" y1="190.8" x2="176.12" y2="196.3"/><line x1="176.12" y1="334.8" x2="176.12" y2="329.3"/><line x1="222.03" y1="14.2" x2="222.03" y2="19.7"/><line x1="222.03" y1="169.5" x2="222.03" y2="164.0"/><line x1="222.03" y1="190.8" x2="222.03" y2="196.3"/><line x1="222.03" y1="334.8" x2="222.03" y2="329.3"/><line x1="267.94" y1="14.2" x2="267.94" y2="19.7"/><line x1="267.94" y1="169.5" x2="267.94" y2="164.0"/><line x1="267.94" y1="190.8" x2="267.94" y2="196.3"/><line x1="267.94" y1="334.8" x2="267.94" y2="329.3"/><line x1="313.85" y1="14.2" x2="313.85" y2="19.7"/><line x1="313.85" y1="169.5" x2="313.85" y2="164.0"/><line x1="313.85" y1="190.8" x2="313.85" y2="196.3"/><line x1="313.85" y1="334.8" x2="313.85" y2="329.3"/><line x1="359.76" y1="14.2" x2="359.76" y2="19.7"/><line x1="359.76" y1="169.5" x2="359.76" y2="164.0"/><line x1="359.76" y1="190.8" x2="359.76" y2="196.3"/><line x1="359.76" y1="334.8" x2="359.76" y2="329.3"/><line x1="405.67" y1="14.2" x2="405.67" y2="19.7"/><line x1="405.67" y1="169.5" x2="405.67" y2="164.0"/><line x1="405.67" y1="190.8" x2="405.67" y2="196.3"/><line x1="405.67" y1="334.8" x2="405.67" y2="329.3"/><line x1="451.58" y1="14.2" x2="451.58" y2="19.7"/><line x1="451.58" y1="169.5" x2="451.58" y2="164.0"/><line x1="451.58" y1="190.8" x2="451.58" y2="196.3"/><line x1="451.58" y1="334.8" x2="451.58" y2="329.3"/><line x1="497.49" y1="14.2" x2="497.49" y2="19.7"/><line x1="497.49" y1="169.5" x2="497.49" y2="164.0"/><line x1="497.49" y1="190.8" x2="497.49" y2="196.3"/><line x1="497.49" y1="334.8" x2="497.49" y2="329.3"/><line x1="84.3" y1="29.10" x2="89.8" y2="29.10"/><line x1="543.4" y1="29.10" x2="537.9" y2="29.10"/><line x1="84.3" y1="60.55" x2="89.8" y2="60.55"/><line x1="543.4" y1="60.55" x2="537.9" y2="60.55"/><line x1="84.3" y1="92.00" x2="89.8" y2="92.00"/><line x1="543.4" y1="92.00" x2="537.9" y2="92.00"/><line x1="84.3" y1="123.45" x2="89.8" y2="123.45"/><line x1="543.4" y1="123.45" x2="537.9" y2="123.45"/><line x1="84.3" y1="154.90" x2="89.8" y2="154.90"/><line x1="543.4" y1="154.90" x2="537.9" y2="154.90"/><line x1="84.3" y1="226.80" x2="89.8" y2="226.80"/><line x1="543.4" y1="226.80" x2="537.9" y2="226.80"/><line x1="84.3" y1="262.80" x2="89.8" y2="262.80"/><line x1="543.4" y1="262.80" x2="537.9" y2="262.80"/><line x1="84.3" y1="298.80" x2="89.8" y2="298.80"/><line x1="543.4" y1="298.80" x2="537.9" y2="298.80"/>
<rect x="84.3" y="14.2" width="459.10" height="155.30"/>
<rect x="84.3" y="190.8" width="459.10" height="144.00"/>
</g>
<text x="57.6" y="37.54" text-anchor="middle">40</text><text x="57.7" y="100.74" text-anchor="middle">0</text><text x="56.9" y="162.44" text-anchor="middle">−40</text><text x="56.6" y="199.44" text-anchor="middle">1</text><text x="57.3" y="234.04" text-anchor="middle">0.5</text><text x="60.0" y="270.94" text-anchor="middle">0</text><text x="57.1" y="307.34" text-anchor="middle">−0.5</text><text x="55.3" y="342.64" text-anchor="middle">−1</text>
<text transform="translate(26.9,126.8) rotate(-90)" style="font-style:italic">i</text>
<text transform="translate(30.2,120.2) rotate(-90)" style="font-size:14.6px">load</text>
<text transform="translate(26.7,90.3) rotate(-90)">(A)</text>
<text transform="translate(27,262) rotate(-90)" text-anchor="middle"><tspan font-style="italic">v</tspan><tspan font-size="14.3" dy="3">load</tspan><tspan dy="-3"> (kV)</tspan></text>
<text x="314.5" y="362.1" text-anchor="middle" style="font-size:21.5px">Time (0.02 s/div)</text>
</svg>
</body></html>
